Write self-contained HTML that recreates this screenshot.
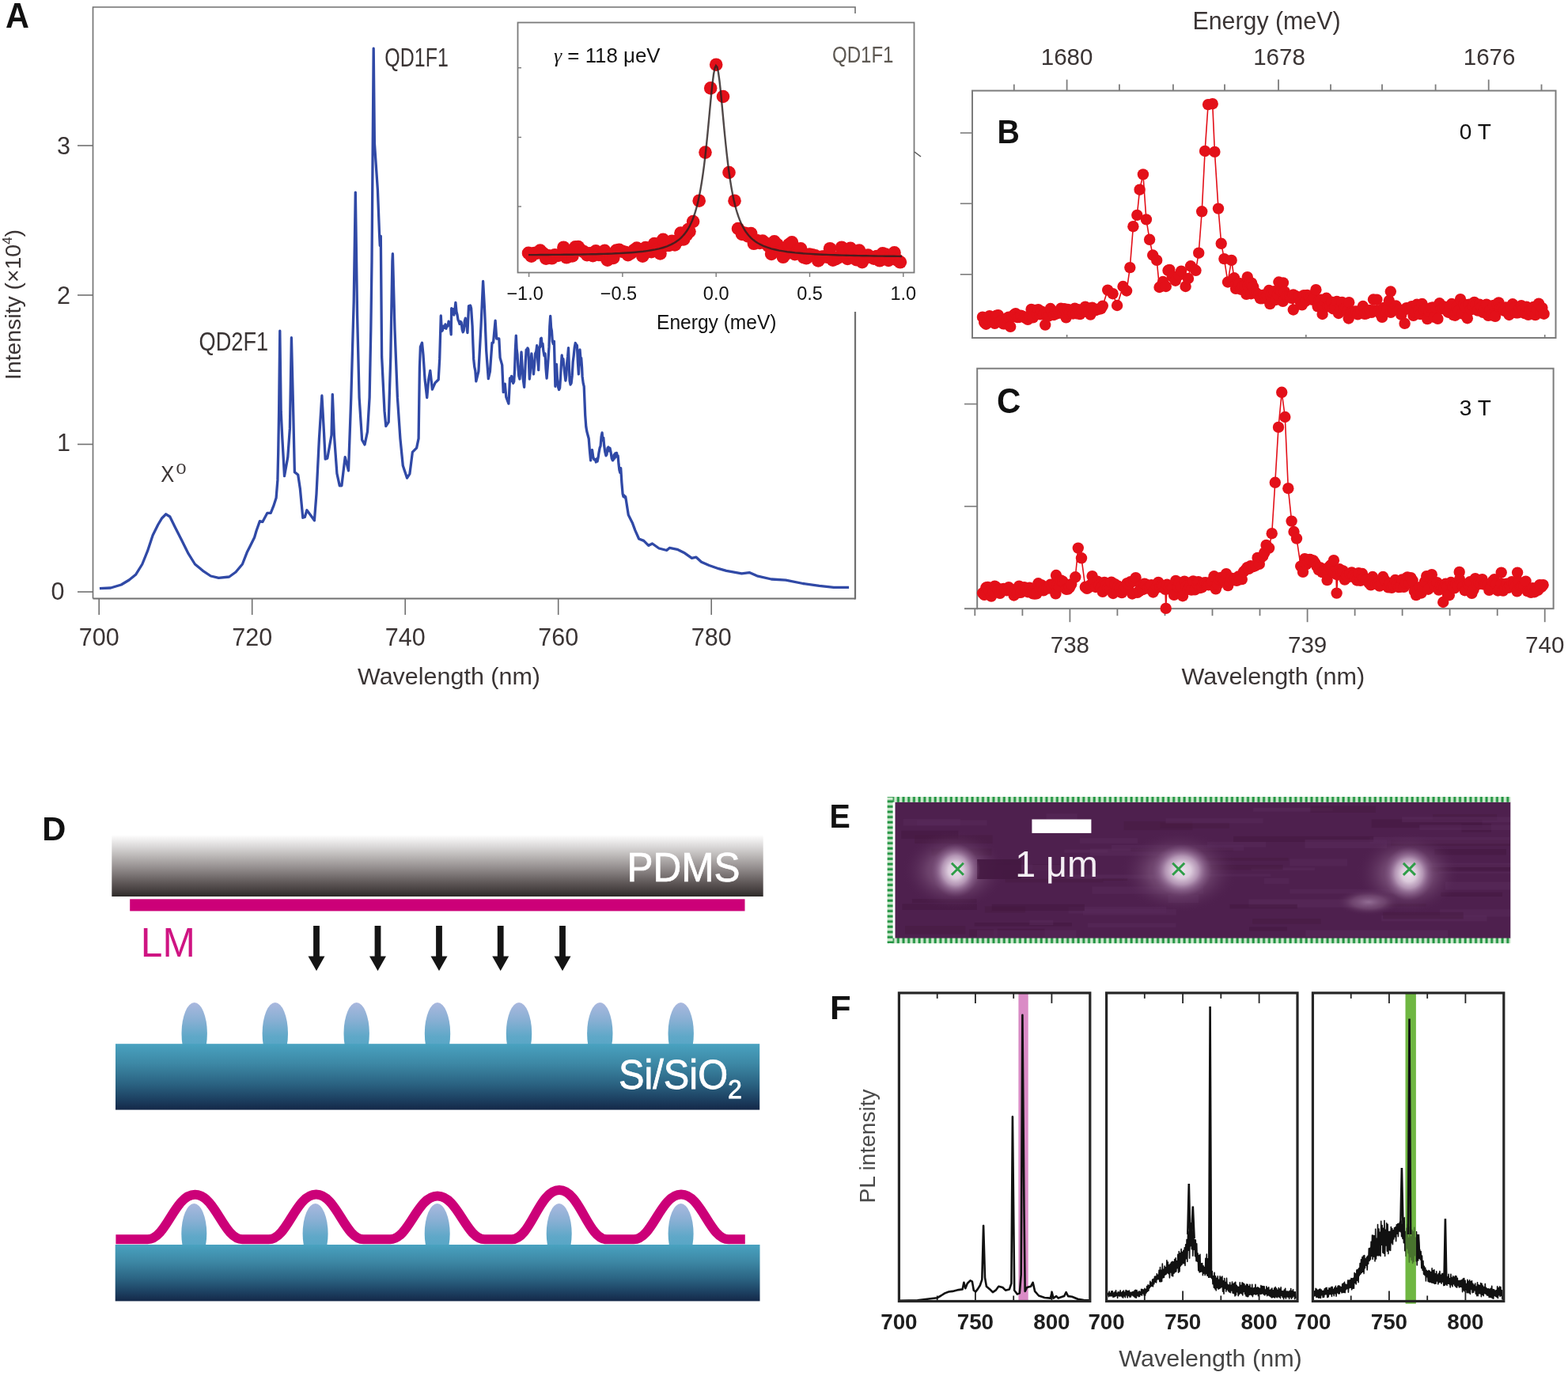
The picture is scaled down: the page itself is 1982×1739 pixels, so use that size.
<!DOCTYPE html><html><head><meta charset="utf-8"><title>Figure</title>
<style>html,body{margin:0;padding:0;background:#fff;}svg{display:block;}text{font-family:"Liberation Sans", Arial, Helvetica, sans-serif;}</style></head><body>
<svg width="1982" height="1739" viewBox="0 0 1982 1739">
<defs><linearGradient id="pdms" x1="0" y1="0" x2="0" y2="1"><stop offset="0" stop-color="#ffffff"/><stop offset="0.2" stop-color="#d8d6d6"/><stop offset="0.3" stop-color="#c4c1c0"/><stop offset="0.55" stop-color="#918b8b"/><stop offset="0.8" stop-color="#5a5353"/><stop offset="0.92" stop-color="#423c3c"/><stop offset="1" stop-color="#2c2927"/></linearGradient><linearGradient id="sub" x1="0" y1="0" x2="0" y2="1"><stop offset="0" stop-color="#49a2c0"/><stop offset="0.3" stop-color="#3d88a5"/><stop offset="0.6" stop-color="#2b6483"/><stop offset="0.85" stop-color="#1c3f60"/><stop offset="1" stop-color="#142848"/></linearGradient><linearGradient id="bump" x1="0" y1="0" x2="0" y2="1"><stop offset="0" stop-color="#aab8de"/><stop offset="0.3" stop-color="#86afd3"/><stop offset="0.55" stop-color="#5fa8c8"/><stop offset="1" stop-color="#4ca2c1"/></linearGradient><radialGradient id="spot"><stop offset="0" stop-color="#ece2ec"/><stop offset="0.3" stop-color="#dccbdc"/><stop offset="0.55" stop-color="#b99cba" stop-opacity="0.9"/><stop offset="0.8" stop-color="#8e6790" stop-opacity="0.5"/><stop offset="1" stop-color="#7a527b" stop-opacity="0"/></radialGradient><radialGradient id="halo"><stop offset="0" stop-color="#9a769c" stop-opacity="0.9"/><stop offset="0.5" stop-color="#80587f" stop-opacity="0.6"/><stop offset="1" stop-color="#4e204e" stop-opacity="0"/></radialGradient><pattern id="gdotsH" x="0" y="0" width="6.7" height="8" patternUnits="userSpaceOnUse"><rect x="0" y="0" width="6.7" height="8" fill="#cfe9cf"/><rect x="1.5" y="0" width="3" height="8" fill="#1f9340"/></pattern><pattern id="gdotsV" x="0" y="0" width="8" height="6.6" patternUnits="userSpaceOnUse"><rect x="0" y="0" width="8" height="6.6" fill="#cfe9cf"/><rect x="0" y="1.5" width="8" height="3" fill="#1f9340"/></pattern></defs>
<rect x="0" y="0" width="1982" height="1739" fill="#ffffff"/>
<text x="7.1" y="35" font-size="44.3" fill="#111" text-anchor="start" font-weight="bold" textLength="29.9" lengthAdjust="spacingAndGlyphs">A</text>
<path d="M117.5,756.5 L117.5,9 L1081,9 L1081,17" fill="none" stroke="#707070" stroke-width="1.6"/>
<line x1="117.5" y1="756.5" x2="1081" y2="756.5" stroke="#707070" stroke-width="2.2"/>
<line x1="1081" y1="394" x2="1081" y2="757.5" stroke="#707070" stroke-width="2.2"/>
<line x1="125.2" y1="756.5" x2="125.2" y2="777" stroke="#707070" stroke-width="1.6"/>
<text x="125.2" y="815.5" font-size="30.5" fill="#3a3434" text-anchor="middle" font-weight="normal">700</text>
<line x1="318.7" y1="756.5" x2="318.7" y2="777" stroke="#707070" stroke-width="1.6"/>
<text x="318.7" y="815.5" font-size="30.5" fill="#3a3434" text-anchor="middle" font-weight="normal">720</text>
<line x1="512.2" y1="756.5" x2="512.2" y2="777" stroke="#707070" stroke-width="1.6"/>
<text x="512.2" y="815.5" font-size="30.5" fill="#3a3434" text-anchor="middle" font-weight="normal">740</text>
<line x1="705.7" y1="756.5" x2="705.7" y2="777" stroke="#707070" stroke-width="1.6"/>
<text x="705.7" y="815.5" font-size="30.5" fill="#3a3434" text-anchor="middle" font-weight="normal">760</text>
<line x1="899.2" y1="756.5" x2="899.2" y2="777" stroke="#707070" stroke-width="1.6"/>
<text x="899.2" y="815.5" font-size="30.5" fill="#3a3434" text-anchor="middle" font-weight="normal">780</text>
<line x1="98" y1="748" x2="117.5" y2="748" stroke="#707070" stroke-width="1.6"/>
<line x1="98" y1="561.5" x2="117.5" y2="561.5" stroke="#707070" stroke-width="1.6"/>
<line x1="98" y1="373" x2="117.5" y2="373" stroke="#707070" stroke-width="1.6"/>
<line x1="98" y1="184" x2="117.5" y2="184" stroke="#707070" stroke-width="1.6"/>
<text x="81.5" y="757.5" font-size="30.5" fill="#3a3434" text-anchor="end" font-weight="normal">0</text>
<text x="89" y="569.5" font-size="30.5" fill="#3a3434" text-anchor="end" font-weight="normal">1</text>
<text x="89" y="384" font-size="30.5" fill="#3a3434" text-anchor="end" font-weight="normal">2</text>
<text x="89" y="195" font-size="30.5" fill="#3a3434" text-anchor="end" font-weight="normal">3</text>
<text x="567.5" y="864.5" font-size="30" fill="#3a3434" text-anchor="middle" font-weight="normal" textLength="231" lengthAdjust="spacingAndGlyphs">Wavelength (nm)</text>
<text transform="translate(26,385) rotate(-90)" x="0" y="0" font-size="28" fill="#3a3434" text-anchor="middle" textLength="190" lengthAdjust="spacingAndGlyphs">Intensity (×10<tspan font-size="17" dy="-11">4</tspan><tspan dy="11">)</tspan></text>
<text x="486.3" y="84.2" font-size="33.5" fill="#3a3434" text-anchor="start" font-weight="normal" textLength="80.5" lengthAdjust="spacingAndGlyphs">QD1F1</text>
<text x="251.6" y="442.7" font-size="33.5" fill="#3a3434" text-anchor="start" font-weight="normal" textLength="87.5" lengthAdjust="spacingAndGlyphs">QD2F1</text>
<text x="203.3" y="609" font-size="30" fill="#3a3434" text-anchor="start" font-weight="normal" textLength="17" lengthAdjust="spacingAndGlyphs">X</text>
<text x="222.5" y="599" font-size="19" fill="#3a3434" text-anchor="start" font-weight="normal" textLength="13" lengthAdjust="spacingAndGlyphs">0</text>
<polyline points="125.9,743.7 139.9,743 153.2,739 163.2,733 171.5,726.3 179.8,713 186.5,696.4 193.1,676.4 199.8,663 204.8,654.7 209.8,649.8 214.8,653 221.4,666.4 229.8,683 238.1,699.7 246.4,713 256.4,721.3 266.4,728 276.4,730.3 289.7,729 298,723 306.4,713 312.1,698.3 316.4,689.7 321.6,679.3 324.1,670.7 328.4,658.6 331.9,659.5 337.9,648.3 342.2,648.3 345.7,639.7 349.1,629.3 350.9,606.9 351.7,572.4 352.6,520.7 353.8,418.1 355.2,520.7 356.9,555.2 359.5,601.7 363.8,577.6 366.4,541.4 368.4,426.7 370.7,520.7 372.4,596.6 376.7,600 379.3,617.2 382.8,654.3 385.3,653.4 387.9,644.8 393.1,651.7 397.4,657.8 400,624.1 403.4,555.2 406.9,500 409.5,546.6 411.2,580.2 413.8,579.3 419,550 420.3,498.3 422.4,550 425.9,598.3 429.3,613.8 431.9,613.8 436.2,577.6 440.5,594.8 443.8,502.4 447.2,381.7 449.3,243.1 451.6,399 454.1,502.4 457.6,555.9 461,561.9 464.5,545.5 467.1,502.4 468.8,416.2 470,330 472.2,61.2 473.4,181 477.4,240 479.6,296.6 480.3,310.3 481.3,298.3 482.6,450.7 486,519.7 487.8,538.6 491.2,533.4 493.8,450.7 495.9,330 496.4,320.7 499,416.2 502.4,502.4 505.9,554.1 509.3,588.6 514.5,604.1 517.9,598.9 521.4,571.4 526.6,566.2 529.1,554.1 530.4,464.2 531.4,438.3 533.5,433.2 535,448.7 537.1,479.8 539.7,502.5 541.7,479.8 543.8,468.4 546.4,492.2 550,483.9 554.2,479.8 555.7,453.9 557.3,399 558.3,418.7 559.3,417.7 560.4,412.1 561.4,412.5 562.2,414.2 563,409.8 563.9,415.3 564.7,412.2 565.5,412.5 566.3,411.3 567.1,406.1 567.9,409.8 568.7,407.3 570.2,422.8 570.7,389.7 571.7,393.5 572.8,390.8 573.8,398 574.8,392.3 575.9,382.4 577,394 578,398 579,404.3 580,406.3 581,409.5 582.1,406.3 583.1,407.3 584.2,416.4 585.2,419.7 586.2,417.7 587.3,405.6 588.3,402.1 589.2,411.6 590,411.5 590.9,420.7 591.7,403.9 592.5,386.6 593.5,391 594.6,386 595.6,389.7 597.1,412.5 597.9,434.6 598.7,453.9 599.7,463.3 600.8,468.6 601.8,481.8 604.9,469.4 608,412.5 610.6,355.5 612.6,391.8 614.7,443.5 617.3,478.7 619.4,469.4 622,433.2 623.5,433.2 626.1,405.2 627.7,428 630.8,428 632.1,452.1 634.7,461.4 636.2,495.6 638.3,485.2 639.8,501.8 642.9,510.1 643.7,496.2 644.5,478 645.5,481.9 646.6,475.4 647.6,480.1 648.7,484.3 649.7,482.1 650.6,466.9 651.4,441.7 652.3,424.2 653.1,440.6 654,447.7 654.8,462.5 655.8,475 656.9,479 658,465.9 659,444.9 660,461.9 661.1,478 662.6,489.4 663.5,474.1 664.3,456.7 665.2,441.8 666.1,446.1 666.9,439.8 667.8,441.8 669.3,479 670.2,471.1 671,456.2 671.9,446.9 672.8,457.8 673.6,462.4 674.5,472.8 675.5,461.4 676.6,446.9 677.7,444.4 678.7,436.6 679.7,454.7 680.7,467.6 681.8,438.7 682.6,439 683.5,428 684.3,427.3 685.2,437 686,434.4 686.9,443.8 688,449.8 689,446.9 690,465.5 691.1,478 692.1,465.8 693.1,452.1 694,438.4 694.8,412.6 695.7,399.3 696.6,414.1 697.4,418.1 698.3,431.4 699.3,434.6 700.4,431.4 701.9,488.3 702.7,475.3 703.5,460.4 704.5,478.6 705.6,489.4 706.6,492.5 707.6,490.4 708.5,477.9 709.3,462.5 710.2,449 711.1,457.3 711.9,453.5 712.8,462.5 713.8,472.2 714.9,481.1 715.8,474.4 716.7,458.6 717.6,450.7 718.5,439.7 719.3,461.7 720.1,481.1 721.1,486.1 722.1,484.2 723.2,474.7 724.2,457.3 725.2,449.6 726.3,438.7 727.3,433.5 728.3,435.3 729.4,436.6 730.4,457.9 731.4,472.8 732.2,458.8 733,441.8 733.9,453.3 734.7,452.5 735.6,464.5 736.1,475.9 737.2,484.4 738.2,488.3 739.7,524.6 740.8,539.4 741.8,545.3 744.2,554.2 745.4,569.4 746.6,581.9 747.5,575.6 748.5,568.6 749.7,577.3 750.9,580.7 751.7,581.3 752.6,580.8 753.4,584 754.3,579.9 755.1,583.1 756.1,578.2 757.1,571.6 758.1,566.2 759.1,563.7 760.1,551.9 761.1,546.9 761.9,556.4 762.8,553.3 763.6,562.6 764.8,571 766,575.9 767,574.3 768,566.3 769,565 770,569.9 771,566.4 772,571.1 773.2,579 774.4,581.9 775.3,581.1 776.2,574.7 777,579.1 777.8,572.8 778.7,577.2 779.5,572.3 780.3,576.8 781.1,575.9 782,586.3 782.9,594 783.8,597.2 784.7,591.6 785.9,610.2 787.1,624.2 788,627.6 788.9,625.9 789.8,628.8 790.7,627.8 794.3,650.8 799.2,660.4 802.8,670.1 807.6,681 813.7,683.4 819.7,689.4 824.5,687 833,693 842.7,695.5 846.3,692.4 856,694.3 865.6,699.1 874.5,705.4 880,704.2 886.6,710.2 896.3,714.5 908.4,718.7 918.1,721.4 937.5,724.8 947.2,723.6 956.9,727.8 975,732 993.2,733.2 1015,737.5 1035.6,740.3 1053.8,742.3 1073.1,742.3" fill="none" stroke="#3049a6" stroke-width="3.3" stroke-linejoin="round"/>
<rect x="640" y="17.5" width="525" height="376" fill="#ffffff"/>
<rect x="654.5" y="28.5" width="501" height="316" fill="#ffffff" stroke="#7a7a7a" stroke-width="1.8"/>
<line x1="668.6" y1="344.5" x2="668.6" y2="350" stroke="#7a7a7a" stroke-width="1.4"/>
<line x1="786.9" y1="344.5" x2="786.9" y2="350" stroke="#7a7a7a" stroke-width="1.4"/>
<line x1="905.2" y1="344.5" x2="905.2" y2="350" stroke="#7a7a7a" stroke-width="1.4"/>
<line x1="1023.5" y1="344.5" x2="1023.5" y2="350" stroke="#7a7a7a" stroke-width="1.4"/>
<line x1="1141.8" y1="344.5" x2="1141.8" y2="350" stroke="#7a7a7a" stroke-width="1.4"/>
<line x1="654.5" y1="85.7" x2="659" y2="85.7" stroke="#7a7a7a" stroke-width="1.4"/>
<line x1="654.5" y1="173.5" x2="659" y2="173.5" stroke="#7a7a7a" stroke-width="1.4"/>
<line x1="654.5" y1="261" x2="659" y2="261" stroke="#7a7a7a" stroke-width="1.4"/>
<text x="663.6" y="378.5" font-size="23.5" fill="#111" text-anchor="middle" font-weight="normal">−1.0</text>
<text x="781.9" y="378.5" font-size="23.5" fill="#111" text-anchor="middle" font-weight="normal">−0.5</text>
<text x="905.2" y="378.5" font-size="23.5" fill="#111" text-anchor="middle" font-weight="normal">0.0</text>
<text x="1023.5" y="378.5" font-size="23.5" fill="#111" text-anchor="middle" font-weight="normal">0.5</text>
<text x="1141.8" y="378.5" font-size="23.5" fill="#111" text-anchor="middle" font-weight="normal">1.0</text>
<text x="905.8" y="416.3" font-size="25" fill="#111" text-anchor="middle" font-weight="normal" textLength="151.5" lengthAdjust="spacingAndGlyphs">Energy (meV)</text>
<text x="700" y="79.3" font-size="25" fill="#111" textLength="134.6" lengthAdjust="spacingAndGlyphs"><tspan font-family="Liberation Serif, serif" font-style="italic">γ</tspan> = 118 μeV</text>
<text x="1052" y="79.3" font-size="29" fill="#5d5852" text-anchor="start" font-weight="normal" textLength="77.5" lengthAdjust="spacingAndGlyphs">QD1F1</text>
<circle cx="668" cy="319.9" r="8.3" fill="#e31019"/>
<circle cx="671.7" cy="323.7" r="8.3" fill="#e31019"/>
<circle cx="675.4" cy="320" r="8.3" fill="#e31019"/>
<circle cx="679.1" cy="319.6" r="8.3" fill="#e31019"/>
<circle cx="682.8" cy="316.5" r="8.3" fill="#e31019"/>
<circle cx="686.5" cy="320.1" r="8.3" fill="#e31019"/>
<circle cx="690.2" cy="326.7" r="8.3" fill="#e31019"/>
<circle cx="693.9" cy="323.2" r="8.3" fill="#e31019"/>
<circle cx="697.6" cy="326.3" r="8.3" fill="#e31019"/>
<circle cx="701.3" cy="322.3" r="8.3" fill="#e31019"/>
<circle cx="705" cy="323" r="8.3" fill="#e31019"/>
<circle cx="708.7" cy="322" r="8.3" fill="#e31019"/>
<circle cx="712.4" cy="312.7" r="8.3" fill="#e31019"/>
<circle cx="716.1" cy="325.3" r="8.3" fill="#e31019"/>
<circle cx="719.8" cy="323.5" r="8.3" fill="#e31019"/>
<circle cx="723.5" cy="323.4" r="8.3" fill="#e31019"/>
<circle cx="727.2" cy="312.4" r="8.3" fill="#e31019"/>
<circle cx="730.9" cy="312.1" r="8.3" fill="#e31019"/>
<circle cx="734.6" cy="316.3" r="8.3" fill="#e31019"/>
<circle cx="738.3" cy="318.4" r="8.3" fill="#e31019"/>
<circle cx="742" cy="322.2" r="8.3" fill="#e31019"/>
<circle cx="745.7" cy="320.4" r="8.3" fill="#e31019"/>
<circle cx="749.4" cy="323.2" r="8.3" fill="#e31019"/>
<circle cx="753.1" cy="317.3" r="8.3" fill="#e31019"/>
<circle cx="756.8" cy="322" r="8.3" fill="#e31019"/>
<circle cx="760.5" cy="322.3" r="8.3" fill="#e31019"/>
<circle cx="764.2" cy="316.9" r="8.3" fill="#e31019"/>
<circle cx="767.9" cy="328.7" r="8.3" fill="#e31019"/>
<circle cx="771.6" cy="322.8" r="8.3" fill="#e31019"/>
<circle cx="775.3" cy="325.9" r="8.3" fill="#e31019"/>
<circle cx="779" cy="316.6" r="8.3" fill="#e31019"/>
<circle cx="782.7" cy="315.9" r="8.3" fill="#e31019"/>
<circle cx="786.4" cy="317.7" r="8.3" fill="#e31019"/>
<circle cx="790.1" cy="318.7" r="8.3" fill="#e31019"/>
<circle cx="793.8" cy="322.2" r="8.3" fill="#e31019"/>
<circle cx="797.5" cy="320" r="8.3" fill="#e31019"/>
<circle cx="801.2" cy="316.3" r="8.3" fill="#e31019"/>
<circle cx="804.9" cy="313.5" r="8.3" fill="#e31019"/>
<circle cx="808.6" cy="315.3" r="8.3" fill="#e31019"/>
<circle cx="812.3" cy="323.6" r="8.3" fill="#e31019"/>
<circle cx="816" cy="313.1" r="8.3" fill="#e31019"/>
<circle cx="819.7" cy="317.9" r="8.3" fill="#e31019"/>
<circle cx="823.4" cy="318.2" r="8.3" fill="#e31019"/>
<circle cx="827.1" cy="308" r="8.3" fill="#e31019"/>
<circle cx="830.8" cy="315" r="8.3" fill="#e31019"/>
<circle cx="834.5" cy="320.5" r="8.3" fill="#e31019"/>
<circle cx="838.2" cy="302.9" r="8.3" fill="#e31019"/>
<circle cx="841.9" cy="310.2" r="8.3" fill="#e31019"/>
<circle cx="845.6" cy="310" r="8.3" fill="#e31019"/>
<circle cx="849.3" cy="304.8" r="8.3" fill="#e31019"/>
<circle cx="853" cy="309.5" r="8.3" fill="#e31019"/>
<circle cx="856.7" cy="304.4" r="8.3" fill="#e31019"/>
<circle cx="860.4" cy="294.5" r="8.3" fill="#e31019"/>
<circle cx="864.1" cy="302.4" r="8.3" fill="#e31019"/>
<circle cx="867.8" cy="297" r="8.3" fill="#e31019"/>
<circle cx="871.5" cy="292.6" r="8.3" fill="#e31019"/>
<circle cx="938.1" cy="294" r="8.3" fill="#e31019"/>
<circle cx="941.8" cy="294.8" r="8.3" fill="#e31019"/>
<circle cx="945.5" cy="298.4" r="8.3" fill="#e31019"/>
<circle cx="949.2" cy="295.1" r="8.3" fill="#e31019"/>
<circle cx="952.9" cy="307.8" r="8.3" fill="#e31019"/>
<circle cx="956.6" cy="304.1" r="8.3" fill="#e31019"/>
<circle cx="960.3" cy="306.9" r="8.3" fill="#e31019"/>
<circle cx="964" cy="304.6" r="8.3" fill="#e31019"/>
<circle cx="967.7" cy="307.5" r="8.3" fill="#e31019"/>
<circle cx="971.4" cy="310.9" r="8.3" fill="#e31019"/>
<circle cx="975.1" cy="321" r="8.3" fill="#e31019"/>
<circle cx="978.8" cy="305.3" r="8.3" fill="#e31019"/>
<circle cx="982.5" cy="309" r="8.3" fill="#e31019"/>
<circle cx="986.2" cy="318.1" r="8.3" fill="#e31019"/>
<circle cx="989.9" cy="324.8" r="8.3" fill="#e31019"/>
<circle cx="993.6" cy="321" r="8.3" fill="#e31019"/>
<circle cx="997.3" cy="309.1" r="8.3" fill="#e31019"/>
<circle cx="1001" cy="306.4" r="8.3" fill="#e31019"/>
<circle cx="1004.7" cy="321.1" r="8.3" fill="#e31019"/>
<circle cx="1008.4" cy="316" r="8.3" fill="#e31019"/>
<circle cx="1012.1" cy="314.4" r="8.3" fill="#e31019"/>
<circle cx="1015.8" cy="325.2" r="8.3" fill="#e31019"/>
<circle cx="1019.5" cy="326.1" r="8.3" fill="#e31019"/>
<circle cx="1023.2" cy="321.6" r="8.3" fill="#e31019"/>
<circle cx="1026.9" cy="322.2" r="8.3" fill="#e31019"/>
<circle cx="1030.6" cy="323.4" r="8.3" fill="#e31019"/>
<circle cx="1034.3" cy="329.4" r="8.3" fill="#e31019"/>
<circle cx="1038" cy="324.7" r="8.3" fill="#e31019"/>
<circle cx="1041.7" cy="324.3" r="8.3" fill="#e31019"/>
<circle cx="1045.4" cy="324.6" r="8.3" fill="#e31019"/>
<circle cx="1049.1" cy="314.2" r="8.3" fill="#e31019"/>
<circle cx="1052.8" cy="328.6" r="8.3" fill="#e31019"/>
<circle cx="1056.5" cy="327.1" r="8.3" fill="#e31019"/>
<circle cx="1060.2" cy="325.1" r="8.3" fill="#e31019"/>
<circle cx="1063.9" cy="312.7" r="8.3" fill="#e31019"/>
<circle cx="1067.6" cy="319.5" r="8.3" fill="#e31019"/>
<circle cx="1071.3" cy="326.9" r="8.3" fill="#e31019"/>
<circle cx="1075" cy="313.8" r="8.3" fill="#e31019"/>
<circle cx="1078.7" cy="322" r="8.3" fill="#e31019"/>
<circle cx="1082.4" cy="328.1" r="8.3" fill="#e31019"/>
<circle cx="1086.1" cy="316.5" r="8.3" fill="#e31019"/>
<circle cx="1089.8" cy="331.2" r="8.3" fill="#e31019"/>
<circle cx="1093.5" cy="326" r="8.3" fill="#e31019"/>
<circle cx="1097.2" cy="322.6" r="8.3" fill="#e31019"/>
<circle cx="1100.9" cy="325" r="8.3" fill="#e31019"/>
<circle cx="1104.6" cy="326.7" r="8.3" fill="#e31019"/>
<circle cx="1108.3" cy="324.1" r="8.3" fill="#e31019"/>
<circle cx="1112" cy="329.3" r="8.3" fill="#e31019"/>
<circle cx="1115.7" cy="320.3" r="8.3" fill="#e31019"/>
<circle cx="1119.4" cy="321.6" r="8.3" fill="#e31019"/>
<circle cx="1123.1" cy="329" r="8.3" fill="#e31019"/>
<circle cx="1126.8" cy="323.9" r="8.3" fill="#e31019"/>
<circle cx="1130.5" cy="319.4" r="8.3" fill="#e31019"/>
<circle cx="1134.2" cy="328.6" r="8.3" fill="#e31019"/>
<circle cx="1137.9" cy="331.3" r="8.3" fill="#e31019"/>
<circle cx="876.1" cy="280" r="8.3" fill="#e31019"/>
<circle cx="883.7" cy="253.7" r="8.3" fill="#e31019"/>
<circle cx="891.5" cy="192.6" r="8.3" fill="#e31019"/>
<circle cx="898.2" cy="111.4" r="8.3" fill="#e31019"/>
<circle cx="905.2" cy="81.7" r="8.3" fill="#e31019"/>
<circle cx="914" cy="122" r="8.3" fill="#e31019"/>
<circle cx="921.5" cy="218" r="8.3" fill="#e31019"/>
<circle cx="928.5" cy="253.7" r="8.3" fill="#e31019"/>
<circle cx="933" cy="289" r="8.3" fill="#e31019"/>
<circle cx="870" cy="290" r="8.3" fill="#e31019"/>
<circle cx="938" cy="296" r="8.3" fill="#e31019"/>
<polyline points="668,322.1 673,322.1 678,322.1 683,322 688,322 693,322 698,321.9 703,321.9 708,321.9 713,321.8 718,321.8 723,321.7 728,321.6 733,321.6 738,321.5 743,321.4 748,321.3 753,321.2 758,321 763,320.9 768,320.7 773,320.6 778,320.3 783,320.1 788,319.8 793,319.5 798,319.2 803,318.8 808,318.3 813,317.8 818,317.1 823,316.3 828,315.4 833,314.3 838,313 843,311.3 848,309.2 849.5,308.4 851,307.6 852.5,306.8 854,305.9 855.5,304.8 857,303.8 858.5,302.6 860,301.3 861.5,299.9 863,298.3 864.5,296.6 866,294.8 867.5,292.7 869,290.5 870.5,288 872,285.2 873.5,282.1 875,278.7 876.5,274.8 878,270.5 879.5,265.7 881,260.2 882.5,254 884,247.1 885.5,239.2 887,230.3 888.5,220.3 890,209.1 891.5,196.6 893,182.8 894.5,167.9 896,152.1 897.5,135.9 899,120.2 900.5,105.8 902,94.1 903.5,86.2 905,83 906.5,84.9 908,91.6 909.5,102.4 911,116.2 912.5,131.7 914,147.9 915.5,163.8 917,179 918.5,193.1 920,206 921.5,217.6 923,227.9 924.5,237.1 926,245.2 927.5,252.4 929,258.8 930.5,264.5 932,269.5 933.5,273.9 935,277.9 936.5,281.5 938,284.7 939.5,287.5 941,290.1 942.5,292.5 944,294.6 945.5,296.5 947,298.2 948.5,299.8 950,301.3 951.5,302.6 953,303.8 954.5,305 956,306 957.5,307 959,307.8 960.5,308.7 962,309.4 963.5,310.1 965,310.8 970,312.7 975,314.3 980,315.5 985,316.6 990,317.4 995,318.2 1000,318.8 1005,319.4 1010,319.8 1015,320.3 1020,320.6 1025,320.9 1030,321.2 1035,321.5 1040,321.7 1045,321.9 1050,322.1 1055,322.3 1060,322.5 1065,322.6 1070,322.8 1075,322.9 1080,323 1085,323.1 1090,323.2 1095,323.3 1100,323.4 1105,323.5 1110,323.6 1115,323.6 1120,323.7 1125,323.8 1130,323.8 1135,323.9 1140,324" fill="none" stroke="#2a2020" stroke-opacity="0.82" stroke-width="2.4"/>
<line x1="1156" y1="192" x2="1164" y2="198" stroke="#555" stroke-width="1.5"/>
<rect x="1229" y="114.6" width="737.5" height="312.4" fill="none" stroke="#7c7c7c" stroke-width="2"/>
<line x1="1281.8" y1="114.6" x2="1281.8" y2="106.6" stroke="#7c7c7c" stroke-width="1.8"/>
<line x1="1348.6" y1="114.6" x2="1348.6" y2="100.6" stroke="#7c7c7c" stroke-width="1.8"/>
<line x1="1414.9" y1="114.6" x2="1414.9" y2="106.6" stroke="#7c7c7c" stroke-width="1.8"/>
<line x1="1482.9" y1="114.6" x2="1482.9" y2="106.6" stroke="#7c7c7c" stroke-width="1.8"/>
<line x1="1548" y1="114.6" x2="1548" y2="106.6" stroke="#7c7c7c" stroke-width="1.8"/>
<line x1="1616" y1="114.6" x2="1616" y2="100.6" stroke="#7c7c7c" stroke-width="1.8"/>
<line x1="1682" y1="114.6" x2="1682" y2="106.6" stroke="#7c7c7c" stroke-width="1.8"/>
<line x1="1747" y1="114.6" x2="1747" y2="106.6" stroke="#7c7c7c" stroke-width="1.8"/>
<line x1="1814.6" y1="114.6" x2="1814.6" y2="106.6" stroke="#7c7c7c" stroke-width="1.8"/>
<line x1="1881.7" y1="114.6" x2="1881.7" y2="100.6" stroke="#7c7c7c" stroke-width="1.8"/>
<line x1="1948.5" y1="114.6" x2="1948.5" y2="106.6" stroke="#7c7c7c" stroke-width="1.8"/>
<text x="1348.6" y="82" font-size="29.5" fill="#3a3434" text-anchor="middle" font-weight="normal">1680</text>
<text x="1617" y="82" font-size="29.5" fill="#3a3434" text-anchor="middle" font-weight="normal">1678</text>
<text x="1882.6" y="82" font-size="29.5" fill="#3a3434" text-anchor="middle" font-weight="normal">1676</text>
<text x="1601" y="36.9" font-size="30.5" fill="#3a3434" text-anchor="middle" font-weight="normal" textLength="187" lengthAdjust="spacingAndGlyphs">Energy (meV)</text>
<line x1="1213.8" y1="168" x2="1229" y2="168" stroke="#7c7c7c" stroke-width="1.6"/>
<line x1="1213.8" y1="257.3" x2="1229" y2="257.3" stroke="#7c7c7c" stroke-width="1.6"/>
<line x1="1213.8" y1="346.8" x2="1229" y2="346.8" stroke="#7c7c7c" stroke-width="1.6"/>
<line x1="1348.6" y1="427" x2="1348.6" y2="423" stroke="#7c7c7c" stroke-width="1.6"/>
<line x1="1650.8" y1="427" x2="1650.8" y2="423" stroke="#7c7c7c" stroke-width="1.6"/>
<line x1="1952.7" y1="427" x2="1952.7" y2="423" stroke="#7c7c7c" stroke-width="1.6"/>
<text x="1260.4" y="180.5" font-size="42.8" fill="#111" text-anchor="start" font-weight="bold" textLength="28.4" lengthAdjust="spacingAndGlyphs">B</text>
<text x="1844.8" y="175.5" font-size="28" fill="#111" text-anchor="start" font-weight="normal" textLength="40" lengthAdjust="spacingAndGlyphs">0 T</text>
<polyline points="1242,400.7 1244.2,407.4 1246.4,409.7 1248.6,403 1250.8,399.2 1253,404.4 1255.2,406.5 1257.4,408.9 1259.6,398.6 1261.8,398.1 1264,406.4 1266.2,405.1 1268.4,409.4 1270.6,406.8 1272.8,401.8 1275,400.8 1277.2,412.8 1279.4,400.2 1281.6,397.8 1283.8,396.1 1286,401.1 1288.2,401 1290.4,398.7 1292.6,399.6 1294.8,400.8 1297,402.3 1299.2,403.8 1301.4,399.7 1303.6,390.9 1305.8,401.3 1308,391.9 1310.2,397 1312.4,391.2 1314.6,397.3 1316.8,393.6 1319,397.6 1321.2,410.6 1323.4,396 1325.6,399.5 1327.8,390 1330,394.2 1332.2,398 1334.4,394.5 1336.6,396.2 1338.8,394.8 1341,389.8 1343.2,396.2 1345.4,390.1 1347.6,401.3 1349.8,390.9 1352,395.8 1354.2,392.6 1356.4,396.5 1358.6,389.7 1360.8,396.4 1363,391.3 1365.2,397.1 1367.4,394.2 1369.6,391.9 1371.8,387.7 1374,394.2 1376.2,392.7 1378.4,397.6 1380.6,388.7 1382.8,392.5 1385,392.1 1387.2,391 1389.4,390.5 1391.6,390.2 1393.8,386.6 1400.2,366.6 1406.6,371.2 1412.1,386 1419.5,362 1424.1,367.5 1428.3,338.1 1432.4,286.2 1437.3,271.9 1440.6,239.7 1444.9,220.4 1448.9,277.4 1453.1,302.8 1457.2,322.5 1462.2,328.9 1465.5,363 1467.4,362 1470,356 1473.8,362 1476.5,341.8 1478.4,340.9 1482,350 1485.8,354.7 1490,348 1493.1,342.7 1498.6,362 1502,352 1505.1,336.3 1511.5,341.8 1515.2,319.7 1519.2,267.3 1523.1,190.9 1527.1,132.1 1532.7,131.2 1535.4,191.9 1540,263.6 1543.7,307.8 1547.4,327.1 1552,356.5 1556.6,328.9 1560,351.3 1562.1,364.8 1562.2,360.3 1564.4,358.4 1566.6,357.9 1568.8,365.8 1571,361.9 1573.2,360.8 1575.4,371.8 1576.8,350.1 1577.6,360.9 1579.8,357.6 1581.4,371.2 1582,357.7 1584.2,362.6 1586.4,369.2 1588.6,370.8 1590.8,372.9 1593,377.2 1595.2,377.2 1597.4,372.6 1599.6,376.7 1601.8,373.3 1604,367 1605.3,384.1 1606.2,373.7 1608.4,369.7 1610.6,368.1 1612.8,379 1615,372.6 1616.4,356.5 1617.2,366.1 1619.4,367.9 1621.6,380.8 1621.9,357.4 1623.8,368.7 1626,374.7 1628.2,375.1 1630.4,375.5 1632.6,376.9 1634.8,391.5 1634.8,372.5 1637,373.6 1639.2,376.1 1641.4,375.5 1643.6,381.5 1645.8,385.4 1648,373.2 1650.2,380.6 1652.4,372.9 1654.6,374.5 1656.8,376.9 1659,378.8 1661.2,376.5 1663.4,366.2 1665.6,387.3 1667.8,379.6 1670,378.6 1671.6,397 1672.2,386 1674.4,380.3 1676.6,376.8 1678.8,387.3 1681,387.5 1683.2,381.6 1685.4,390.3 1687.6,388.3 1689.8,381 1692,396 1694.2,388.8 1696.4,382 1698.6,390.4 1700.8,389 1703,393.6 1704.7,402.5 1705.2,382.2 1707.4,394.7 1709.6,394.5 1711.8,393.6 1714,393.5 1716.2,397.4 1718.4,394.7 1720.6,391.9 1722.8,387 1725,396.9 1727.2,396.3 1729.4,392.8 1731.6,392 1733.8,394.9 1736,378.5 1738.2,392.9 1740.4,378.6 1742.6,392.5 1744.8,396.6 1747,400.9 1749.2,388.9 1751.4,393.4 1753.6,390.9 1755.8,380 1757.8,368.5 1758,394.9 1760.2,391.2 1762.4,391.6 1764.6,386.5 1766.8,391 1769,391.7 1771.2,397.7 1773.4,392.7 1775.6,408.9 1777.8,389.2 1780,389.9 1782.2,391 1784.4,387.1 1786.6,398.9 1788.8,394.5 1791,384.8 1793.2,391.8 1795.4,397.1 1797.6,384 1799.8,392 1802,390 1804.2,403.1 1806.4,393.3 1808.6,389.2 1810.8,388.4 1813,400.8 1815.2,388.9 1817.4,402.8 1819.6,383.3 1821.8,390.3 1824,390 1826.2,387.7 1828.4,390.2 1830.6,394.7 1832.8,387.9 1835,384 1837.2,398.1 1839.4,398.7 1841.6,387.7 1843.8,392.8 1846,378.2 1848.2,396.5 1850.4,384.5 1852.6,388.4 1854.8,402.2 1857,384.8 1859.2,391.3 1861.4,385.8 1863.6,381.9 1865.8,385.3 1868,392.6 1870.2,384.6 1872.4,388.2 1874.6,394.9 1876.8,390.4 1879,384.6 1881.2,398.8 1883.4,391.8 1885.6,398.4 1887.8,385.9 1890,399.8 1892.2,384.4 1894.4,382.4 1896.6,389.1 1898.8,389.3 1901,392.6 1903.2,388.4 1905.4,394.4 1907.6,398 1909.8,387.9 1912,384.3 1914.2,389.2 1916.4,395.4 1918.6,395.4 1920.8,389.5 1923,386.2 1925.2,391.1 1927.4,396.1 1929.6,387.6 1931.8,397.8 1934,392.4 1936.2,392.7 1938.4,388 1940.6,398.1 1942.8,391.4 1945,383.7 1947.2,395.4 1949.4,389.1 1951.6,396.7" fill="none" stroke="#e31019" stroke-width="1.6"/>
<g fill="#e31019"><circle cx="1242" cy="400.7" r="7.2"/><circle cx="1244.2" cy="407.4" r="7.2"/><circle cx="1246.4" cy="409.7" r="7.2"/><circle cx="1248.6" cy="403" r="7.2"/><circle cx="1250.8" cy="399.2" r="7.2"/><circle cx="1253" cy="404.4" r="7.2"/><circle cx="1255.2" cy="406.5" r="7.2"/><circle cx="1257.4" cy="408.9" r="7.2"/><circle cx="1259.6" cy="398.6" r="7.2"/><circle cx="1261.8" cy="398.1" r="7.2"/><circle cx="1264" cy="406.4" r="7.2"/><circle cx="1266.2" cy="405.1" r="7.2"/><circle cx="1268.4" cy="409.4" r="7.2"/><circle cx="1270.6" cy="406.8" r="7.2"/><circle cx="1272.8" cy="401.8" r="7.2"/><circle cx="1275" cy="400.8" r="7.2"/><circle cx="1277.2" cy="412.8" r="7.2"/><circle cx="1279.4" cy="400.2" r="7.2"/><circle cx="1281.6" cy="397.8" r="7.2"/><circle cx="1283.8" cy="396.1" r="7.2"/><circle cx="1286" cy="401.1" r="7.2"/><circle cx="1288.2" cy="401" r="7.2"/><circle cx="1290.4" cy="398.7" r="7.2"/><circle cx="1292.6" cy="399.6" r="7.2"/><circle cx="1294.8" cy="400.8" r="7.2"/><circle cx="1297" cy="402.3" r="7.2"/><circle cx="1299.2" cy="403.8" r="7.2"/><circle cx="1301.4" cy="399.7" r="7.2"/><circle cx="1303.6" cy="390.9" r="7.2"/><circle cx="1305.8" cy="401.3" r="7.2"/><circle cx="1308" cy="391.9" r="7.2"/><circle cx="1310.2" cy="397" r="7.2"/><circle cx="1312.4" cy="391.2" r="7.2"/><circle cx="1314.6" cy="397.3" r="7.2"/><circle cx="1316.8" cy="393.6" r="7.2"/><circle cx="1319" cy="397.6" r="7.2"/><circle cx="1321.2" cy="410.6" r="7.2"/><circle cx="1323.4" cy="396" r="7.2"/><circle cx="1325.6" cy="399.5" r="7.2"/><circle cx="1327.8" cy="390" r="7.2"/><circle cx="1330" cy="394.2" r="7.2"/><circle cx="1332.2" cy="398" r="7.2"/><circle cx="1334.4" cy="394.5" r="7.2"/><circle cx="1336.6" cy="396.2" r="7.2"/><circle cx="1338.8" cy="394.8" r="7.2"/><circle cx="1341" cy="389.8" r="7.2"/><circle cx="1343.2" cy="396.2" r="7.2"/><circle cx="1345.4" cy="390.1" r="7.2"/><circle cx="1347.6" cy="401.3" r="7.2"/><circle cx="1349.8" cy="390.9" r="7.2"/><circle cx="1352" cy="395.8" r="7.2"/><circle cx="1354.2" cy="392.6" r="7.2"/><circle cx="1356.4" cy="396.5" r="7.2"/><circle cx="1358.6" cy="389.7" r="7.2"/><circle cx="1360.8" cy="396.4" r="7.2"/><circle cx="1363" cy="391.3" r="7.2"/><circle cx="1365.2" cy="397.1" r="7.2"/><circle cx="1367.4" cy="394.2" r="7.2"/><circle cx="1369.6" cy="391.9" r="7.2"/><circle cx="1371.8" cy="387.7" r="7.2"/><circle cx="1374" cy="394.2" r="7.2"/><circle cx="1376.2" cy="392.7" r="7.2"/><circle cx="1378.4" cy="397.6" r="7.2"/><circle cx="1380.6" cy="388.7" r="7.2"/><circle cx="1382.8" cy="392.5" r="7.2"/><circle cx="1385" cy="392.1" r="7.2"/><circle cx="1387.2" cy="391" r="7.2"/><circle cx="1389.4" cy="390.5" r="7.2"/><circle cx="1391.6" cy="390.2" r="7.2"/><circle cx="1393.8" cy="386.6" r="7.2"/><circle cx="1400.2" cy="366.6" r="7.2"/><circle cx="1406.6" cy="371.2" r="7.2"/><circle cx="1412.1" cy="386" r="7.2"/><circle cx="1419.5" cy="362" r="7.2"/><circle cx="1424.1" cy="367.5" r="7.2"/><circle cx="1428.3" cy="338.1" r="7.2"/><circle cx="1432.4" cy="286.2" r="7.2"/><circle cx="1437.3" cy="271.9" r="7.2"/><circle cx="1440.6" cy="239.7" r="7.2"/><circle cx="1444.9" cy="220.4" r="7.2"/><circle cx="1448.9" cy="277.4" r="7.2"/><circle cx="1453.1" cy="302.8" r="7.2"/><circle cx="1457.2" cy="322.5" r="7.2"/><circle cx="1462.2" cy="328.9" r="7.2"/><circle cx="1465.5" cy="363" r="7.2"/><circle cx="1467.4" cy="362" r="7.2"/><circle cx="1470" cy="356" r="7.2"/><circle cx="1473.8" cy="362" r="7.2"/><circle cx="1476.5" cy="341.8" r="7.2"/><circle cx="1478.4" cy="340.9" r="7.2"/><circle cx="1482" cy="350" r="7.2"/><circle cx="1485.8" cy="354.7" r="7.2"/><circle cx="1490" cy="348" r="7.2"/><circle cx="1493.1" cy="342.7" r="7.2"/><circle cx="1498.6" cy="362" r="7.2"/><circle cx="1502" cy="352" r="7.2"/><circle cx="1505.1" cy="336.3" r="7.2"/><circle cx="1511.5" cy="341.8" r="7.2"/><circle cx="1515.2" cy="319.7" r="7.2"/><circle cx="1519.2" cy="267.3" r="7.2"/><circle cx="1523.1" cy="190.9" r="7.2"/><circle cx="1527.1" cy="132.1" r="7.2"/><circle cx="1532.7" cy="131.2" r="7.2"/><circle cx="1535.4" cy="191.9" r="7.2"/><circle cx="1540" cy="263.6" r="7.2"/><circle cx="1543.7" cy="307.8" r="7.2"/><circle cx="1547.4" cy="327.1" r="7.2"/><circle cx="1552" cy="356.5" r="7.2"/><circle cx="1556.6" cy="328.9" r="7.2"/><circle cx="1560" cy="351.3" r="7.2"/><circle cx="1562.1" cy="364.8" r="7.2"/><circle cx="1562.2" cy="360.3" r="7.2"/><circle cx="1564.4" cy="358.4" r="7.2"/><circle cx="1566.6" cy="357.9" r="7.2"/><circle cx="1568.8" cy="365.8" r="7.2"/><circle cx="1571" cy="361.9" r="7.2"/><circle cx="1573.2" cy="360.8" r="7.2"/><circle cx="1575.4" cy="371.8" r="7.2"/><circle cx="1576.8" cy="350.1" r="7.2"/><circle cx="1577.6" cy="360.9" r="7.2"/><circle cx="1579.8" cy="357.6" r="7.2"/><circle cx="1581.4" cy="371.2" r="7.2"/><circle cx="1582" cy="357.7" r="7.2"/><circle cx="1584.2" cy="362.6" r="7.2"/><circle cx="1586.4" cy="369.2" r="7.2"/><circle cx="1588.6" cy="370.8" r="7.2"/><circle cx="1590.8" cy="372.9" r="7.2"/><circle cx="1593" cy="377.2" r="7.2"/><circle cx="1595.2" cy="377.2" r="7.2"/><circle cx="1597.4" cy="372.6" r="7.2"/><circle cx="1599.6" cy="376.7" r="7.2"/><circle cx="1601.8" cy="373.3" r="7.2"/><circle cx="1604" cy="367" r="7.2"/><circle cx="1605.3" cy="384.1" r="7.2"/><circle cx="1606.2" cy="373.7" r="7.2"/><circle cx="1608.4" cy="369.7" r="7.2"/><circle cx="1610.6" cy="368.1" r="7.2"/><circle cx="1612.8" cy="379" r="7.2"/><circle cx="1615" cy="372.6" r="7.2"/><circle cx="1616.4" cy="356.5" r="7.2"/><circle cx="1617.2" cy="366.1" r="7.2"/><circle cx="1619.4" cy="367.9" r="7.2"/><circle cx="1621.6" cy="380.8" r="7.2"/><circle cx="1621.9" cy="357.4" r="7.2"/><circle cx="1623.8" cy="368.7" r="7.2"/><circle cx="1626" cy="374.7" r="7.2"/><circle cx="1628.2" cy="375.1" r="7.2"/><circle cx="1630.4" cy="375.5" r="7.2"/><circle cx="1632.6" cy="376.9" r="7.2"/><circle cx="1634.8" cy="391.5" r="7.2"/><circle cx="1634.8" cy="372.5" r="7.2"/><circle cx="1637" cy="373.6" r="7.2"/><circle cx="1639.2" cy="376.1" r="7.2"/><circle cx="1641.4" cy="375.5" r="7.2"/><circle cx="1643.6" cy="381.5" r="7.2"/><circle cx="1645.8" cy="385.4" r="7.2"/><circle cx="1648" cy="373.2" r="7.2"/><circle cx="1650.2" cy="380.6" r="7.2"/><circle cx="1652.4" cy="372.9" r="7.2"/><circle cx="1654.6" cy="374.5" r="7.2"/><circle cx="1656.8" cy="376.9" r="7.2"/><circle cx="1659" cy="378.8" r="7.2"/><circle cx="1661.2" cy="376.5" r="7.2"/><circle cx="1663.4" cy="366.2" r="7.2"/><circle cx="1665.6" cy="387.3" r="7.2"/><circle cx="1667.8" cy="379.6" r="7.2"/><circle cx="1670" cy="378.6" r="7.2"/><circle cx="1671.6" cy="397" r="7.2"/><circle cx="1672.2" cy="386" r="7.2"/><circle cx="1674.4" cy="380.3" r="7.2"/><circle cx="1676.6" cy="376.8" r="7.2"/><circle cx="1678.8" cy="387.3" r="7.2"/><circle cx="1681" cy="387.5" r="7.2"/><circle cx="1683.2" cy="381.6" r="7.2"/><circle cx="1685.4" cy="390.3" r="7.2"/><circle cx="1687.6" cy="388.3" r="7.2"/><circle cx="1689.8" cy="381" r="7.2"/><circle cx="1692" cy="396" r="7.2"/><circle cx="1694.2" cy="388.8" r="7.2"/><circle cx="1696.4" cy="382" r="7.2"/><circle cx="1698.6" cy="390.4" r="7.2"/><circle cx="1700.8" cy="389" r="7.2"/><circle cx="1703" cy="393.6" r="7.2"/><circle cx="1704.7" cy="402.5" r="7.2"/><circle cx="1705.2" cy="382.2" r="7.2"/><circle cx="1707.4" cy="394.7" r="7.2"/><circle cx="1709.6" cy="394.5" r="7.2"/><circle cx="1711.8" cy="393.6" r="7.2"/><circle cx="1714" cy="393.5" r="7.2"/><circle cx="1716.2" cy="397.4" r="7.2"/><circle cx="1718.4" cy="394.7" r="7.2"/><circle cx="1720.6" cy="391.9" r="7.2"/><circle cx="1722.8" cy="387" r="7.2"/><circle cx="1725" cy="396.9" r="7.2"/><circle cx="1727.2" cy="396.3" r="7.2"/><circle cx="1729.4" cy="392.8" r="7.2"/><circle cx="1731.6" cy="392" r="7.2"/><circle cx="1733.8" cy="394.9" r="7.2"/><circle cx="1736" cy="378.5" r="7.2"/><circle cx="1738.2" cy="392.9" r="7.2"/><circle cx="1740.4" cy="378.6" r="7.2"/><circle cx="1742.6" cy="392.5" r="7.2"/><circle cx="1744.8" cy="396.6" r="7.2"/><circle cx="1747" cy="400.9" r="7.2"/><circle cx="1749.2" cy="388.9" r="7.2"/><circle cx="1751.4" cy="393.4" r="7.2"/><circle cx="1753.6" cy="390.9" r="7.2"/><circle cx="1755.8" cy="380" r="7.2"/><circle cx="1757.8" cy="368.5" r="7.2"/><circle cx="1758" cy="394.9" r="7.2"/><circle cx="1760.2" cy="391.2" r="7.2"/><circle cx="1762.4" cy="391.6" r="7.2"/><circle cx="1764.6" cy="386.5" r="7.2"/><circle cx="1766.8" cy="391" r="7.2"/><circle cx="1769" cy="391.7" r="7.2"/><circle cx="1771.2" cy="397.7" r="7.2"/><circle cx="1773.4" cy="392.7" r="7.2"/><circle cx="1775.6" cy="408.9" r="7.2"/><circle cx="1777.8" cy="389.2" r="7.2"/><circle cx="1780" cy="389.9" r="7.2"/><circle cx="1782.2" cy="391" r="7.2"/><circle cx="1784.4" cy="387.1" r="7.2"/><circle cx="1786.6" cy="398.9" r="7.2"/><circle cx="1788.8" cy="394.5" r="7.2"/><circle cx="1791" cy="384.8" r="7.2"/><circle cx="1793.2" cy="391.8" r="7.2"/><circle cx="1795.4" cy="397.1" r="7.2"/><circle cx="1797.6" cy="384" r="7.2"/><circle cx="1799.8" cy="392" r="7.2"/><circle cx="1802" cy="390" r="7.2"/><circle cx="1804.2" cy="403.1" r="7.2"/><circle cx="1806.4" cy="393.3" r="7.2"/><circle cx="1808.6" cy="389.2" r="7.2"/><circle cx="1810.8" cy="388.4" r="7.2"/><circle cx="1813" cy="400.8" r="7.2"/><circle cx="1815.2" cy="388.9" r="7.2"/><circle cx="1817.4" cy="402.8" r="7.2"/><circle cx="1819.6" cy="383.3" r="7.2"/><circle cx="1821.8" cy="390.3" r="7.2"/><circle cx="1824" cy="390" r="7.2"/><circle cx="1826.2" cy="387.7" r="7.2"/><circle cx="1828.4" cy="390.2" r="7.2"/><circle cx="1830.6" cy="394.7" r="7.2"/><circle cx="1832.8" cy="387.9" r="7.2"/><circle cx="1835" cy="384" r="7.2"/><circle cx="1837.2" cy="398.1" r="7.2"/><circle cx="1839.4" cy="398.7" r="7.2"/><circle cx="1841.6" cy="387.7" r="7.2"/><circle cx="1843.8" cy="392.8" r="7.2"/><circle cx="1846" cy="378.2" r="7.2"/><circle cx="1848.2" cy="396.5" r="7.2"/><circle cx="1850.4" cy="384.5" r="7.2"/><circle cx="1852.6" cy="388.4" r="7.2"/><circle cx="1854.8" cy="402.2" r="7.2"/><circle cx="1857" cy="384.8" r="7.2"/><circle cx="1859.2" cy="391.3" r="7.2"/><circle cx="1861.4" cy="385.8" r="7.2"/><circle cx="1863.6" cy="381.9" r="7.2"/><circle cx="1865.8" cy="385.3" r="7.2"/><circle cx="1868" cy="392.6" r="7.2"/><circle cx="1870.2" cy="384.6" r="7.2"/><circle cx="1872.4" cy="388.2" r="7.2"/><circle cx="1874.6" cy="394.9" r="7.2"/><circle cx="1876.8" cy="390.4" r="7.2"/><circle cx="1879" cy="384.6" r="7.2"/><circle cx="1881.2" cy="398.8" r="7.2"/><circle cx="1883.4" cy="391.8" r="7.2"/><circle cx="1885.6" cy="398.4" r="7.2"/><circle cx="1887.8" cy="385.9" r="7.2"/><circle cx="1890" cy="399.8" r="7.2"/><circle cx="1892.2" cy="384.4" r="7.2"/><circle cx="1894.4" cy="382.4" r="7.2"/><circle cx="1896.6" cy="389.1" r="7.2"/><circle cx="1898.8" cy="389.3" r="7.2"/><circle cx="1901" cy="392.6" r="7.2"/><circle cx="1903.2" cy="388.4" r="7.2"/><circle cx="1905.4" cy="394.4" r="7.2"/><circle cx="1907.6" cy="398" r="7.2"/><circle cx="1909.8" cy="387.9" r="7.2"/><circle cx="1912" cy="384.3" r="7.2"/><circle cx="1914.2" cy="389.2" r="7.2"/><circle cx="1916.4" cy="395.4" r="7.2"/><circle cx="1918.6" cy="395.4" r="7.2"/><circle cx="1920.8" cy="389.5" r="7.2"/><circle cx="1923" cy="386.2" r="7.2"/><circle cx="1925.2" cy="391.1" r="7.2"/><circle cx="1927.4" cy="396.1" r="7.2"/><circle cx="1929.6" cy="387.6" r="7.2"/><circle cx="1931.8" cy="397.8" r="7.2"/><circle cx="1934" cy="392.4" r="7.2"/><circle cx="1936.2" cy="392.7" r="7.2"/><circle cx="1938.4" cy="388" r="7.2"/><circle cx="1940.6" cy="398.1" r="7.2"/><circle cx="1942.8" cy="391.4" r="7.2"/><circle cx="1945" cy="383.7" r="7.2"/><circle cx="1947.2" cy="395.4" r="7.2"/><circle cx="1949.4" cy="389.1" r="7.2"/><circle cx="1951.6" cy="396.7" r="7.2"/></g>
<rect x="1235.2" y="465.7" width="728.4" height="303.5" fill="none" stroke="#7c7c7c" stroke-width="2"/>
<line x1="1219" y1="769.2" x2="1236" y2="769.2" stroke="#7c7c7c" stroke-width="2"/>
<line x1="1219" y1="510.6" x2="1235.2" y2="510.6" stroke="#7c7c7c" stroke-width="1.6"/>
<line x1="1219" y1="640" x2="1235.2" y2="640" stroke="#7c7c7c" stroke-width="1.6"/>
<line x1="1232.3" y1="769.2" x2="1232.3" y2="778.2" stroke="#7c7c7c" stroke-width="1.8"/>
<line x1="1292.4" y1="769.2" x2="1292.4" y2="778.2" stroke="#7c7c7c" stroke-width="1.8"/>
<line x1="1352.4" y1="769.2" x2="1352.4" y2="786.2" stroke="#7c7c7c" stroke-width="1.8"/>
<line x1="1412.4" y1="769.2" x2="1412.4" y2="778.2" stroke="#7c7c7c" stroke-width="1.8"/>
<line x1="1472.5" y1="769.2" x2="1472.5" y2="778.2" stroke="#7c7c7c" stroke-width="1.8"/>
<line x1="1532.5" y1="769.2" x2="1532.5" y2="778.2" stroke="#7c7c7c" stroke-width="1.8"/>
<line x1="1592.5" y1="769.2" x2="1592.5" y2="778.2" stroke="#7c7c7c" stroke-width="1.8"/>
<line x1="1652.6" y1="769.2" x2="1652.6" y2="786.2" stroke="#7c7c7c" stroke-width="1.8"/>
<line x1="1712.6" y1="769.2" x2="1712.6" y2="778.2" stroke="#7c7c7c" stroke-width="1.8"/>
<line x1="1772.6" y1="769.2" x2="1772.6" y2="778.2" stroke="#7c7c7c" stroke-width="1.8"/>
<line x1="1832.6" y1="769.2" x2="1832.6" y2="778.2" stroke="#7c7c7c" stroke-width="1.8"/>
<line x1="1892.7" y1="769.2" x2="1892.7" y2="778.2" stroke="#7c7c7c" stroke-width="1.8"/>
<line x1="1952.7" y1="769.2" x2="1952.7" y2="786.2" stroke="#7c7c7c" stroke-width="1.8"/>
<text x="1352.4" y="824.6" font-size="29.5" fill="#3a3434" text-anchor="middle" font-weight="normal">738</text>
<text x="1652.6" y="824.6" font-size="29.5" fill="#3a3434" text-anchor="middle" font-weight="normal">739</text>
<text x="1952.7" y="824.6" font-size="29.5" fill="#3a3434" text-anchor="middle" font-weight="normal">740</text>
<text x="1609.3" y="864.5" font-size="30" fill="#3a3434" text-anchor="middle" font-weight="normal" textLength="231.7" lengthAdjust="spacingAndGlyphs">Wavelength (nm)</text>
<text x="1260" y="521.5" font-size="43.9" fill="#111" text-anchor="start" font-weight="bold" textLength="30.3" lengthAdjust="spacingAndGlyphs">C</text>
<text x="1844.8" y="524.9" font-size="28" fill="#111" text-anchor="start" font-weight="normal" textLength="40" lengthAdjust="spacingAndGlyphs">3 T</text>
<polyline points="1242,749.5 1244.2,751.9 1246.4,742.5 1248.6,742 1250.8,747.5 1253,753.6 1255.2,747.6 1257.4,740.6 1259.6,742.3 1261.8,745.5 1264,749.9 1266.2,745.6 1268.4,744 1270.6,744.5 1272.8,746.2 1275,742.2 1277.2,745.4 1279.4,746.5 1281.6,752.5 1283.8,745 1286,749.5 1288.2,740.6 1290.4,748.9 1292.6,745.6 1294.8,742.3 1297,744.3 1299.2,748.2 1301.4,742.6 1303.6,748.3 1305.8,750.3 1308,750.5 1310.2,750.3 1312.4,737.3 1314.6,744.2 1316.8,739.5 1319,746.4 1321.2,742.4 1323.4,742.8 1325.6,743.6 1327.8,738.8 1330,741.6 1332.2,738 1334.4,750.4 1335,727 1336.6,739.1 1338.8,741.2 1341,733.4 1343.2,734.6 1345.4,737.5 1347.6,744.7 1349.8,744.6 1352,742.4 1354.2,738.3 1359.3,729.3 1362.8,692.6 1367,705.3 1371.8,741.8 1374,743.9 1376.2,742.3 1378.4,739.1 1380.6,728.1 1382.8,736.7 1385,742 1387.2,734.7 1389.4,739.5 1391.6,742.9 1393.8,747.8 1396,735.9 1398.2,739.5 1400.4,742.9 1402.6,744.2 1404.8,735.7 1407,750 1409.2,738.2 1411.4,746.6 1413.6,740.8 1415.8,743.5 1418,749.1 1420.2,744.8 1422.4,742.2 1424.6,737.2 1426.8,738.7 1429,735.2 1431.2,750.5 1433.4,734.6 1435.6,730.1 1437.8,748.8 1440,747.1 1442.2,739.8 1444.4,745.1 1446.6,737.7 1448.8,738.8 1451,743.6 1453.2,743.1 1455.4,739.3 1457.6,748.5 1459.8,744.5 1462,741.9 1464.2,735.9 1466.4,741.8 1468.6,739.8 1470.8,740.8 1473,744.8 1473.7,768.9 1475.2,738.8 1477.4,742.6 1479.6,745 1481.8,743.1 1484,751.9 1486.2,733.9 1488.4,741.5 1490.6,736.5 1492.8,741.6 1495,753.2 1497.2,734.7 1499.4,740.8 1501.6,744.9 1503.8,742.2 1506,745.6 1508.2,734.4 1510.4,745.4 1512.6,736.6 1514.8,735.2 1517,743 1519.2,742.3 1521.4,736.7 1523.6,736.1 1525.8,738.6 1528,739.3 1530.2,738.3 1532.4,734.3 1534.6,728.3 1536.8,744.3 1539,739 1541.2,732.1 1543.4,729.9 1545.6,733 1547.8,733.5 1550,725.1 1552.2,740.1 1554.4,735 1556.6,730.8 1558.8,733.1 1561,731.5 1563.2,733.9 1565.4,728.5 1567.6,732.2 1569.8,732.1 1572,722.5 1574.2,720.5 1576.4,717.3 1578.6,718.9 1580.8,715.1 1583,716.3 1585.2,715.6 1587.4,714.6 1589.6,704.9 1591.8,712.9 1594,704.6 1596.2,703 1598.4,698.4 1600.6,688.9 1604.1,692.6 1607.7,674.2 1611.8,609.8 1616,539.9 1620.2,495.8 1624.3,527 1628.3,617.2 1632.6,658.6 1635.5,672 1639,680.6 1644.2,715.6 1647,722.8 1649.2,706.2 1651.4,713.2 1653.6,710.2 1655.6,707.3 1655.8,706.9 1658,708.3 1660.2,708.5 1662.4,711.9 1664.6,715.7 1666.8,720.1 1669,717.4 1671.2,723.1 1673.4,721.1 1675.6,720.5 1677.6,733.1 1677.8,719.6 1680,716.5 1682.2,714.2 1684.4,722.4 1685.9,708.2 1686.6,722.6 1688.8,725.7 1689.6,749.6 1691,726.5 1693.2,719.3 1695.4,722.7 1697.6,721.4 1699.8,732.6 1702,727.6 1704.2,729.3 1706.4,724.7 1708.6,723.4 1710.8,727.3 1713,730.2 1715.2,733.5 1717.4,724.2 1719.6,733.9 1721.8,728.5 1722,725 1724,730.7 1726.2,732.1 1728.4,732.2 1730.6,737 1732.8,739.3 1735,729 1735,737 1737.2,732.9 1739.4,737.9 1741.6,737.9 1743.8,740.6 1746,738 1748.2,729 1750.4,733.5 1752.6,735.5 1754.8,742.3 1757,737.4 1759.2,742.8 1761.4,740 1763.6,733 1765.8,739.3 1768,742.1 1770.2,741.7 1772.4,732.4 1774.6,741.8 1776.8,736.9 1779,729.4 1781.2,737 1783.4,730.2 1785.6,733.6 1787.8,747 1790,752.1 1792.2,745.2 1794.4,742.2 1796.6,749.5 1798.8,741.8 1801,735.3 1803.2,728.1 1805.4,744.7 1807.6,729.2 1809.8,726.2 1812,737.1 1814.2,740.7 1816.4,736.2 1818.6,745.6 1820.8,740.1 1823,741.6 1824.2,761 1825.2,742.8 1827.4,737.7 1829.6,741.7 1831.8,752.2 1834,736 1836.2,741.5 1838.4,743.3 1840.6,738 1842.8,740.4 1844.7,722.9 1845,732.2 1847.2,738.5 1849.4,740.9 1851.6,746.2 1853.8,745.4 1856,737.8 1858.2,735.2 1860.4,749.8 1862.6,745.1 1864.8,731.2 1867,739 1869.2,736.2 1871.4,737.7 1873.6,732.2 1875.8,738.6 1878,738.2 1880.2,739.6 1882.4,745.9 1884.6,741.9 1886.8,734.7 1889,732.1 1891.2,738.1 1893.4,746.5 1895.6,745.4 1897.7,723.6 1897.8,737.8 1900,746.6 1902.2,742.9 1904.4,737.8 1906.6,742.9 1908.8,740.4 1911,735.2 1913.2,738.6 1915.4,741.6 1917.6,747.4 1918.1,723.6 1919.8,735.6 1922,742 1924.2,740.9 1926.4,740.6 1928.6,734.7 1930.8,747.1 1933,747.3 1935.2,748.8 1937.4,743.2 1939.6,748.2 1941.8,743.5 1944,745.8 1946.2,739.2 1948.4,742 1950.6,739.2" fill="none" stroke="#e31019" stroke-width="1.6"/>
<g fill="#e31019"><circle cx="1242" cy="749.5" r="7.2"/><circle cx="1244.2" cy="751.9" r="7.2"/><circle cx="1246.4" cy="742.5" r="7.2"/><circle cx="1248.6" cy="742" r="7.2"/><circle cx="1250.8" cy="747.5" r="7.2"/><circle cx="1253" cy="753.6" r="7.2"/><circle cx="1255.2" cy="747.6" r="7.2"/><circle cx="1257.4" cy="740.6" r="7.2"/><circle cx="1259.6" cy="742.3" r="7.2"/><circle cx="1261.8" cy="745.5" r="7.2"/><circle cx="1264" cy="749.9" r="7.2"/><circle cx="1266.2" cy="745.6" r="7.2"/><circle cx="1268.4" cy="744" r="7.2"/><circle cx="1270.6" cy="744.5" r="7.2"/><circle cx="1272.8" cy="746.2" r="7.2"/><circle cx="1275" cy="742.2" r="7.2"/><circle cx="1277.2" cy="745.4" r="7.2"/><circle cx="1279.4" cy="746.5" r="7.2"/><circle cx="1281.6" cy="752.5" r="7.2"/><circle cx="1283.8" cy="745" r="7.2"/><circle cx="1286" cy="749.5" r="7.2"/><circle cx="1288.2" cy="740.6" r="7.2"/><circle cx="1290.4" cy="748.9" r="7.2"/><circle cx="1292.6" cy="745.6" r="7.2"/><circle cx="1294.8" cy="742.3" r="7.2"/><circle cx="1297" cy="744.3" r="7.2"/><circle cx="1299.2" cy="748.2" r="7.2"/><circle cx="1301.4" cy="742.6" r="7.2"/><circle cx="1303.6" cy="748.3" r="7.2"/><circle cx="1305.8" cy="750.3" r="7.2"/><circle cx="1308" cy="750.5" r="7.2"/><circle cx="1310.2" cy="750.3" r="7.2"/><circle cx="1312.4" cy="737.3" r="7.2"/><circle cx="1314.6" cy="744.2" r="7.2"/><circle cx="1316.8" cy="739.5" r="7.2"/><circle cx="1319" cy="746.4" r="7.2"/><circle cx="1321.2" cy="742.4" r="7.2"/><circle cx="1323.4" cy="742.8" r="7.2"/><circle cx="1325.6" cy="743.6" r="7.2"/><circle cx="1327.8" cy="738.8" r="7.2"/><circle cx="1330" cy="741.6" r="7.2"/><circle cx="1332.2" cy="738" r="7.2"/><circle cx="1334.4" cy="750.4" r="7.2"/><circle cx="1335" cy="727" r="7.2"/><circle cx="1336.6" cy="739.1" r="7.2"/><circle cx="1338.8" cy="741.2" r="7.2"/><circle cx="1341" cy="733.4" r="7.2"/><circle cx="1343.2" cy="734.6" r="7.2"/><circle cx="1345.4" cy="737.5" r="7.2"/><circle cx="1347.6" cy="744.7" r="7.2"/><circle cx="1349.8" cy="744.6" r="7.2"/><circle cx="1352" cy="742.4" r="7.2"/><circle cx="1354.2" cy="738.3" r="7.2"/><circle cx="1359.3" cy="729.3" r="7.2"/><circle cx="1362.8" cy="692.6" r="7.2"/><circle cx="1367" cy="705.3" r="7.2"/><circle cx="1371.8" cy="741.8" r="7.2"/><circle cx="1374" cy="743.9" r="7.2"/><circle cx="1376.2" cy="742.3" r="7.2"/><circle cx="1378.4" cy="739.1" r="7.2"/><circle cx="1380.6" cy="728.1" r="7.2"/><circle cx="1382.8" cy="736.7" r="7.2"/><circle cx="1385" cy="742" r="7.2"/><circle cx="1387.2" cy="734.7" r="7.2"/><circle cx="1389.4" cy="739.5" r="7.2"/><circle cx="1391.6" cy="742.9" r="7.2"/><circle cx="1393.8" cy="747.8" r="7.2"/><circle cx="1396" cy="735.9" r="7.2"/><circle cx="1398.2" cy="739.5" r="7.2"/><circle cx="1400.4" cy="742.9" r="7.2"/><circle cx="1402.6" cy="744.2" r="7.2"/><circle cx="1404.8" cy="735.7" r="7.2"/><circle cx="1407" cy="750" r="7.2"/><circle cx="1409.2" cy="738.2" r="7.2"/><circle cx="1411.4" cy="746.6" r="7.2"/><circle cx="1413.6" cy="740.8" r="7.2"/><circle cx="1415.8" cy="743.5" r="7.2"/><circle cx="1418" cy="749.1" r="7.2"/><circle cx="1420.2" cy="744.8" r="7.2"/><circle cx="1422.4" cy="742.2" r="7.2"/><circle cx="1424.6" cy="737.2" r="7.2"/><circle cx="1426.8" cy="738.7" r="7.2"/><circle cx="1429" cy="735.2" r="7.2"/><circle cx="1431.2" cy="750.5" r="7.2"/><circle cx="1433.4" cy="734.6" r="7.2"/><circle cx="1435.6" cy="730.1" r="7.2"/><circle cx="1437.8" cy="748.8" r="7.2"/><circle cx="1440" cy="747.1" r="7.2"/><circle cx="1442.2" cy="739.8" r="7.2"/><circle cx="1444.4" cy="745.1" r="7.2"/><circle cx="1446.6" cy="737.7" r="7.2"/><circle cx="1448.8" cy="738.8" r="7.2"/><circle cx="1451" cy="743.6" r="7.2"/><circle cx="1453.2" cy="743.1" r="7.2"/><circle cx="1455.4" cy="739.3" r="7.2"/><circle cx="1457.6" cy="748.5" r="7.2"/><circle cx="1459.8" cy="744.5" r="7.2"/><circle cx="1462" cy="741.9" r="7.2"/><circle cx="1464.2" cy="735.9" r="7.2"/><circle cx="1466.4" cy="741.8" r="7.2"/><circle cx="1468.6" cy="739.8" r="7.2"/><circle cx="1470.8" cy="740.8" r="7.2"/><circle cx="1473" cy="744.8" r="7.2"/><circle cx="1473.7" cy="768.9" r="7.2"/><circle cx="1475.2" cy="738.8" r="7.2"/><circle cx="1477.4" cy="742.6" r="7.2"/><circle cx="1479.6" cy="745" r="7.2"/><circle cx="1481.8" cy="743.1" r="7.2"/><circle cx="1484" cy="751.9" r="7.2"/><circle cx="1486.2" cy="733.9" r="7.2"/><circle cx="1488.4" cy="741.5" r="7.2"/><circle cx="1490.6" cy="736.5" r="7.2"/><circle cx="1492.8" cy="741.6" r="7.2"/><circle cx="1495" cy="753.2" r="7.2"/><circle cx="1497.2" cy="734.7" r="7.2"/><circle cx="1499.4" cy="740.8" r="7.2"/><circle cx="1501.6" cy="744.9" r="7.2"/><circle cx="1503.8" cy="742.2" r="7.2"/><circle cx="1506" cy="745.6" r="7.2"/><circle cx="1508.2" cy="734.4" r="7.2"/><circle cx="1510.4" cy="745.4" r="7.2"/><circle cx="1512.6" cy="736.6" r="7.2"/><circle cx="1514.8" cy="735.2" r="7.2"/><circle cx="1517" cy="743" r="7.2"/><circle cx="1519.2" cy="742.3" r="7.2"/><circle cx="1521.4" cy="736.7" r="7.2"/><circle cx="1523.6" cy="736.1" r="7.2"/><circle cx="1525.8" cy="738.6" r="7.2"/><circle cx="1528" cy="739.3" r="7.2"/><circle cx="1530.2" cy="738.3" r="7.2"/><circle cx="1532.4" cy="734.3" r="7.2"/><circle cx="1534.6" cy="728.3" r="7.2"/><circle cx="1536.8" cy="744.3" r="7.2"/><circle cx="1539" cy="739" r="7.2"/><circle cx="1541.2" cy="732.1" r="7.2"/><circle cx="1543.4" cy="729.9" r="7.2"/><circle cx="1545.6" cy="733" r="7.2"/><circle cx="1547.8" cy="733.5" r="7.2"/><circle cx="1550" cy="725.1" r="7.2"/><circle cx="1552.2" cy="740.1" r="7.2"/><circle cx="1554.4" cy="735" r="7.2"/><circle cx="1556.6" cy="730.8" r="7.2"/><circle cx="1558.8" cy="733.1" r="7.2"/><circle cx="1561" cy="731.5" r="7.2"/><circle cx="1563.2" cy="733.9" r="7.2"/><circle cx="1565.4" cy="728.5" r="7.2"/><circle cx="1567.6" cy="732.2" r="7.2"/><circle cx="1569.8" cy="732.1" r="7.2"/><circle cx="1572" cy="722.5" r="7.2"/><circle cx="1574.2" cy="720.5" r="7.2"/><circle cx="1576.4" cy="717.3" r="7.2"/><circle cx="1578.6" cy="718.9" r="7.2"/><circle cx="1580.8" cy="715.1" r="7.2"/><circle cx="1583" cy="716.3" r="7.2"/><circle cx="1585.2" cy="715.6" r="7.2"/><circle cx="1587.4" cy="714.6" r="7.2"/><circle cx="1589.6" cy="704.9" r="7.2"/><circle cx="1591.8" cy="712.9" r="7.2"/><circle cx="1594" cy="704.6" r="7.2"/><circle cx="1596.2" cy="703" r="7.2"/><circle cx="1598.4" cy="698.4" r="7.2"/><circle cx="1600.6" cy="688.9" r="7.2"/><circle cx="1604.1" cy="692.6" r="7.2"/><circle cx="1607.7" cy="674.2" r="7.2"/><circle cx="1611.8" cy="609.8" r="7.2"/><circle cx="1616" cy="539.9" r="7.2"/><circle cx="1620.2" cy="495.8" r="7.2"/><circle cx="1624.3" cy="527" r="7.2"/><circle cx="1628.3" cy="617.2" r="7.2"/><circle cx="1632.6" cy="658.6" r="7.2"/><circle cx="1635.5" cy="672" r="7.2"/><circle cx="1639" cy="680.6" r="7.2"/><circle cx="1644.2" cy="715.6" r="7.2"/><circle cx="1647" cy="722.8" r="7.2"/><circle cx="1649.2" cy="706.2" r="7.2"/><circle cx="1651.4" cy="713.2" r="7.2"/><circle cx="1653.6" cy="710.2" r="7.2"/><circle cx="1655.6" cy="707.3" r="7.2"/><circle cx="1655.8" cy="706.9" r="7.2"/><circle cx="1658" cy="708.3" r="7.2"/><circle cx="1660.2" cy="708.5" r="7.2"/><circle cx="1662.4" cy="711.9" r="7.2"/><circle cx="1664.6" cy="715.7" r="7.2"/><circle cx="1666.8" cy="720.1" r="7.2"/><circle cx="1669" cy="717.4" r="7.2"/><circle cx="1671.2" cy="723.1" r="7.2"/><circle cx="1673.4" cy="721.1" r="7.2"/><circle cx="1675.6" cy="720.5" r="7.2"/><circle cx="1677.6" cy="733.1" r="7.2"/><circle cx="1677.8" cy="719.6" r="7.2"/><circle cx="1680" cy="716.5" r="7.2"/><circle cx="1682.2" cy="714.2" r="7.2"/><circle cx="1684.4" cy="722.4" r="7.2"/><circle cx="1685.9" cy="708.2" r="7.2"/><circle cx="1686.6" cy="722.6" r="7.2"/><circle cx="1688.8" cy="725.7" r="7.2"/><circle cx="1689.6" cy="749.6" r="7.2"/><circle cx="1691" cy="726.5" r="7.2"/><circle cx="1693.2" cy="719.3" r="7.2"/><circle cx="1695.4" cy="722.7" r="7.2"/><circle cx="1697.6" cy="721.4" r="7.2"/><circle cx="1699.8" cy="732.6" r="7.2"/><circle cx="1702" cy="727.6" r="7.2"/><circle cx="1704.2" cy="729.3" r="7.2"/><circle cx="1706.4" cy="724.7" r="7.2"/><circle cx="1708.6" cy="723.4" r="7.2"/><circle cx="1710.8" cy="727.3" r="7.2"/><circle cx="1713" cy="730.2" r="7.2"/><circle cx="1715.2" cy="733.5" r="7.2"/><circle cx="1717.4" cy="724.2" r="7.2"/><circle cx="1719.6" cy="733.9" r="7.2"/><circle cx="1721.8" cy="728.5" r="7.2"/><circle cx="1722" cy="725" r="7.2"/><circle cx="1724" cy="730.7" r="7.2"/><circle cx="1726.2" cy="732.1" r="7.2"/><circle cx="1728.4" cy="732.2" r="7.2"/><circle cx="1730.6" cy="737" r="7.2"/><circle cx="1732.8" cy="739.3" r="7.2"/><circle cx="1735" cy="729" r="7.2"/><circle cx="1735" cy="737" r="7.2"/><circle cx="1737.2" cy="732.9" r="7.2"/><circle cx="1739.4" cy="737.9" r="7.2"/><circle cx="1741.6" cy="737.9" r="7.2"/><circle cx="1743.8" cy="740.6" r="7.2"/><circle cx="1746" cy="738" r="7.2"/><circle cx="1748.2" cy="729" r="7.2"/><circle cx="1750.4" cy="733.5" r="7.2"/><circle cx="1752.6" cy="735.5" r="7.2"/><circle cx="1754.8" cy="742.3" r="7.2"/><circle cx="1757" cy="737.4" r="7.2"/><circle cx="1759.2" cy="742.8" r="7.2"/><circle cx="1761.4" cy="740" r="7.2"/><circle cx="1763.6" cy="733" r="7.2"/><circle cx="1765.8" cy="739.3" r="7.2"/><circle cx="1768" cy="742.1" r="7.2"/><circle cx="1770.2" cy="741.7" r="7.2"/><circle cx="1772.4" cy="732.4" r="7.2"/><circle cx="1774.6" cy="741.8" r="7.2"/><circle cx="1776.8" cy="736.9" r="7.2"/><circle cx="1779" cy="729.4" r="7.2"/><circle cx="1781.2" cy="737" r="7.2"/><circle cx="1783.4" cy="730.2" r="7.2"/><circle cx="1785.6" cy="733.6" r="7.2"/><circle cx="1787.8" cy="747" r="7.2"/><circle cx="1790" cy="752.1" r="7.2"/><circle cx="1792.2" cy="745.2" r="7.2"/><circle cx="1794.4" cy="742.2" r="7.2"/><circle cx="1796.6" cy="749.5" r="7.2"/><circle cx="1798.8" cy="741.8" r="7.2"/><circle cx="1801" cy="735.3" r="7.2"/><circle cx="1803.2" cy="728.1" r="7.2"/><circle cx="1805.4" cy="744.7" r="7.2"/><circle cx="1807.6" cy="729.2" r="7.2"/><circle cx="1809.8" cy="726.2" r="7.2"/><circle cx="1812" cy="737.1" r="7.2"/><circle cx="1814.2" cy="740.7" r="7.2"/><circle cx="1816.4" cy="736.2" r="7.2"/><circle cx="1818.6" cy="745.6" r="7.2"/><circle cx="1820.8" cy="740.1" r="7.2"/><circle cx="1823" cy="741.6" r="7.2"/><circle cx="1824.2" cy="761" r="7.2"/><circle cx="1825.2" cy="742.8" r="7.2"/><circle cx="1827.4" cy="737.7" r="7.2"/><circle cx="1829.6" cy="741.7" r="7.2"/><circle cx="1831.8" cy="752.2" r="7.2"/><circle cx="1834" cy="736" r="7.2"/><circle cx="1836.2" cy="741.5" r="7.2"/><circle cx="1838.4" cy="743.3" r="7.2"/><circle cx="1840.6" cy="738" r="7.2"/><circle cx="1842.8" cy="740.4" r="7.2"/><circle cx="1844.7" cy="722.9" r="7.2"/><circle cx="1845" cy="732.2" r="7.2"/><circle cx="1847.2" cy="738.5" r="7.2"/><circle cx="1849.4" cy="740.9" r="7.2"/><circle cx="1851.6" cy="746.2" r="7.2"/><circle cx="1853.8" cy="745.4" r="7.2"/><circle cx="1856" cy="737.8" r="7.2"/><circle cx="1858.2" cy="735.2" r="7.2"/><circle cx="1860.4" cy="749.8" r="7.2"/><circle cx="1862.6" cy="745.1" r="7.2"/><circle cx="1864.8" cy="731.2" r="7.2"/><circle cx="1867" cy="739" r="7.2"/><circle cx="1869.2" cy="736.2" r="7.2"/><circle cx="1871.4" cy="737.7" r="7.2"/><circle cx="1873.6" cy="732.2" r="7.2"/><circle cx="1875.8" cy="738.6" r="7.2"/><circle cx="1878" cy="738.2" r="7.2"/><circle cx="1880.2" cy="739.6" r="7.2"/><circle cx="1882.4" cy="745.9" r="7.2"/><circle cx="1884.6" cy="741.9" r="7.2"/><circle cx="1886.8" cy="734.7" r="7.2"/><circle cx="1889" cy="732.1" r="7.2"/><circle cx="1891.2" cy="738.1" r="7.2"/><circle cx="1893.4" cy="746.5" r="7.2"/><circle cx="1895.6" cy="745.4" r="7.2"/><circle cx="1897.7" cy="723.6" r="7.2"/><circle cx="1897.8" cy="737.8" r="7.2"/><circle cx="1900" cy="746.6" r="7.2"/><circle cx="1902.2" cy="742.9" r="7.2"/><circle cx="1904.4" cy="737.8" r="7.2"/><circle cx="1906.6" cy="742.9" r="7.2"/><circle cx="1908.8" cy="740.4" r="7.2"/><circle cx="1911" cy="735.2" r="7.2"/><circle cx="1913.2" cy="738.6" r="7.2"/><circle cx="1915.4" cy="741.6" r="7.2"/><circle cx="1917.6" cy="747.4" r="7.2"/><circle cx="1918.1" cy="723.6" r="7.2"/><circle cx="1919.8" cy="735.6" r="7.2"/><circle cx="1922" cy="742" r="7.2"/><circle cx="1924.2" cy="740.9" r="7.2"/><circle cx="1926.4" cy="740.6" r="7.2"/><circle cx="1928.6" cy="734.7" r="7.2"/><circle cx="1930.8" cy="747.1" r="7.2"/><circle cx="1933" cy="747.3" r="7.2"/><circle cx="1935.2" cy="748.8" r="7.2"/><circle cx="1937.4" cy="743.2" r="7.2"/><circle cx="1939.6" cy="748.2" r="7.2"/><circle cx="1941.8" cy="743.5" r="7.2"/><circle cx="1944" cy="745.8" r="7.2"/><circle cx="1946.2" cy="739.2" r="7.2"/><circle cx="1948.4" cy="742" r="7.2"/><circle cx="1950.6" cy="739.2" r="7.2"/></g>
<text x="53.3" y="1061.5" font-size="43.4" fill="#111" text-anchor="start" font-weight="bold" textLength="30.1" lengthAdjust="spacingAndGlyphs">D</text>
<rect x="141.3" y="1055" width="823.4" height="78" fill="url(#pdms)"/>
<text x="792.5" y="1113.8" font-size="52.5" fill="#ffffff" stroke="#ffffff" stroke-width="0.7" textLength="143" lengthAdjust="spacingAndGlyphs">PDMS</text>
<rect x="164.2" y="1136.3" width="777.3" height="15.1" fill="#cc0078"/>
<text x="177.8" y="1209" font-size="51" fill="#cf1482" text-anchor="start" font-weight="normal" textLength="69" lengthAdjust="spacingAndGlyphs">LM</text>
<path d="M396.1,1170 L403.9,1170 L403.9,1208.5 L410.5,1208.5 L400,1227 L389.5,1208.5 L396.1,1208.5 L396.1,1170 Z" fill="#141414"/>
<path d="M473.6,1170 L481.4,1170 L481.4,1208.5 L488,1208.5 L477.5,1227 L467,1208.5 L473.6,1208.5 L473.6,1170 Z" fill="#141414"/>
<path d="M551.1,1170 L558.9,1170 L558.9,1208.5 L565.5,1208.5 L555,1227 L544.5,1208.5 L551.1,1208.5 L551.1,1170 Z" fill="#141414"/>
<path d="M628.8,1170 L636.6,1170 L636.6,1208.5 L643.2,1208.5 L632.7,1227 L622.2,1208.5 L628.8,1208.5 L628.8,1170 Z" fill="#141414"/>
<path d="M707.1,1170 L714.9,1170 L714.9,1208.5 L721.5,1208.5 L711,1227 L700.5,1208.5 L707.1,1208.5 L707.1,1170 Z" fill="#141414"/>
<ellipse cx="245.7" cy="1306" rx="16.2" ry="39" fill="url(#bump)"/>
<ellipse cx="347.8" cy="1306" rx="16.2" ry="39" fill="url(#bump)"/>
<ellipse cx="450.7" cy="1306" rx="16.2" ry="39" fill="url(#bump)"/>
<ellipse cx="553" cy="1306" rx="16.2" ry="39" fill="url(#bump)"/>
<ellipse cx="656" cy="1306" rx="16.2" ry="39" fill="url(#bump)"/>
<ellipse cx="758.3" cy="1306" rx="16.2" ry="39" fill="url(#bump)"/>
<ellipse cx="860.7" cy="1306" rx="16.2" ry="39" fill="url(#bump)"/>
<rect x="146" y="1319.2" width="814.2" height="83.4" fill="url(#sub)"/>
<text x="782" y="1376" font-size="51.5" fill="#ffffff" stroke="#ffffff" stroke-width="0.8" textLength="156" lengthAdjust="spacingAndGlyphs">Si/SiO<tspan font-size="34" dy="12">2</tspan></text>
<ellipse cx="245.3" cy="1559" rx="16" ry="38" fill="url(#bump)"/>
<ellipse cx="398.6" cy="1559" rx="16" ry="38" fill="url(#bump)"/>
<ellipse cx="552.7" cy="1559" rx="16" ry="38" fill="url(#bump)"/>
<ellipse cx="706.7" cy="1559" rx="16" ry="38" fill="url(#bump)"/>
<ellipse cx="860.6" cy="1559" rx="16" ry="38" fill="url(#bump)"/>
<rect x="145.7" y="1573" width="814.8" height="71.4" fill="url(#sub)"/>
<path d="M146.4,1566.3 L186.5,1566.3 C210.5,1566.3 220.5,1509.8 246.5,1509.8 C272.5,1509.8 282.5,1566.3 306.5,1566.3 L339.6,1566.3 C363.6,1566.3 373.6,1509.5 399.6,1509.5 C425.6,1509.5 435.6,1566.3 459.6,1566.3 L493,1566.3 C517,1566.3 527,1511.5 553,1511.5 C579,1511.5 589,1566.3 613,1566.3 L647,1566.3 C671,1566.3 681,1504 707,1504 C733,1504 743,1566.3 767,1566.3 L801,1566.3 C825,1566.3 835,1509.5 861,1509.5 C887,1509.5 897,1566.3 921,1566.3 L941.8,1566.3" fill="none" stroke="#cc0078" stroke-width="12"/>
<text x="1048.4" y="1046.1" font-size="42.7" fill="#111" text-anchor="start" font-weight="bold" textLength="26.3" lengthAdjust="spacingAndGlyphs">E</text>
<rect x="1131.5" y="1013.5" width="777.8" height="172.5" fill="#4e204e"/>
<rect x="1578.5" y="1136.4" width="149.3" height="10.5" fill="#5a2b5b" opacity="0.5"/>
<rect x="1735.1" y="1142" width="67.4" height="3.4" fill="#46193f" opacity="0.5"/>
<rect x="1211.5" y="1091.4" width="67" height="7.4" fill="#46193f" opacity="0.5"/>
<rect x="1139.4" y="1049.8" width="71.9" height="10.3" fill="#42163d" opacity="0.5"/>
<rect x="1244.9" y="1145.5" width="50.8" height="7.9" fill="#46193f" opacity="0.5"/>
<rect x="1225.2" y="1174.4" width="30.8" height="9.2" fill="#46193f" opacity="0.5"/>
<rect x="1758.1" y="1061.7" width="150.9" height="7.3" fill="#46193f" opacity="0.5"/>
<rect x="1260.8" y="1173.8" width="59.5" height="10.7" fill="#42163d" opacity="0.5"/>
<rect x="1345.1" y="1073.6" width="54.9" height="4.2" fill="#5a2b5b" opacity="0.5"/>
<rect x="1368.9" y="1148.9" width="117.9" height="7.8" fill="#582a5a" opacity="0.5"/>
<rect x="1177.5" y="1072.6" width="75.9" height="8.6" fill="#46193f" opacity="0.5"/>
<rect x="1476.5" y="1130.3" width="38.6" height="10.8" fill="#5a2b5b" opacity="0.5"/>
<rect x="1813.4" y="1073" width="90.6" height="7.4" fill="#42163d" opacity="0.5"/>
<rect x="1393.7" y="1109.5" width="31.4" height="3.4" fill="#46193f" opacity="0.5"/>
<rect x="1579.1" y="1171.5" width="47.9" height="5" fill="#42163d" opacity="0.5"/>
<rect x="1378" y="1072.5" width="108.7" height="9.2" fill="#5a2b5b" opacity="0.5"/>
<rect x="1554.6" y="1142.9" width="85.1" height="5.4" fill="#42163d" opacity="0.5"/>
<rect x="1811" y="1029" width="81.1" height="7.9" fill="#46193f" opacity="0.5"/>
<rect x="1374.8" y="1166.5" width="111.8" height="5.5" fill="#582a5a" opacity="0.5"/>
<rect x="1350.4" y="1145.8" width="124" height="8.8" fill="#582a5a" opacity="0.5"/>
<rect x="1847.6" y="1040.7" width="37.3" height="10.9" fill="#42163d" opacity="0.5"/>
<rect x="1152.9" y="1136.2" width="81.6" height="5" fill="#42163d" opacity="0.5"/>
<rect x="1234.9" y="1175.5" width="125.7" height="9.4" fill="#582a5a" opacity="0.5"/>
<rect x="1733.7" y="1035.5" width="139.7" height="10.6" fill="#42163d" opacity="0.5"/>
<rect x="1206.8" y="1085.7" width="52.4" height="9.8" fill="#582a5a" opacity="0.5"/>
<rect x="1231.7" y="1166.1" width="123.1" height="4.4" fill="#42163d" opacity="0.5"/>
<rect x="1821.3" y="1127.7" width="77.7" height="5.2" fill="#42163d" opacity="0.5"/>
<rect x="1420.7" y="1038.2" width="86.6" height="10.9" fill="#46193f" opacity="0.5"/>
<rect x="1581.4" y="1096.4" width="80.8" height="3.7" fill="#582a5a" opacity="0.5"/>
<rect x="1500.9" y="1104.4" width="105.4" height="3.5" fill="#582a5a" opacity="0.5"/>
<rect x="1630.1" y="1123.6" width="143.9" height="5.9" fill="#582a5a" opacity="0.5"/>
<rect x="1731.4" y="1057.7" width="177.1" height="8.7" fill="#582a5a" opacity="0.5"/>
<rect x="1597.8" y="1109.8" width="31.7" height="7.4" fill="#582a5a" opacity="0.5"/>
<rect x="1364.7" y="1059.2" width="73.3" height="7" fill="#582a5a" opacity="0.5"/>
<rect x="1380.5" y="1120.3" width="140.7" height="9.6" fill="#582a5a" opacity="0.5"/>
<rect x="1794.1" y="1042.5" width="114.9" height="6.6" fill="#582a5a" opacity="0.5"/>
<rect x="1818.7" y="1099.5" width="90.3" height="4.3" fill="#582a5a" opacity="0.5"/>
<rect x="1804.9" y="1092.7" width="104.1" height="8.8" fill="#42163d" opacity="0.5"/>
<rect x="1253.7" y="1142.8" width="117.1" height="8.3" fill="#42163d" opacity="0.5"/>
<rect x="1347.9" y="1105.3" width="160.1" height="5.2" fill="#5a2b5b" opacity="0.5"/>
<rect x="1270.8" y="1110.8" width="123.6" height="4.4" fill="#46193f" opacity="0.5"/>
<rect x="1584.2" y="1020.9" width="100.7" height="4.8" fill="#5a2b5b" opacity="0.5"/>
<rect x="1772.1" y="1032.3" width="136.9" height="6.9" fill="#5a2b5b" opacity="0.5"/>
<rect x="1429.2" y="1071.9" width="129.4" height="3.6" fill="#46193f" opacity="0.5"/>
<rect x="1301.2" y="1163" width="30.1" height="6.2" fill="#582a5a" opacity="0.5"/>
<rect x="1746.2" y="1157" width="133.3" height="7.4" fill="#5a2b5b" opacity="0.5"/>
<rect x="1526" y="1063.7" width="74.3" height="7.1" fill="#582a5a" opacity="0.5"/>
<rect x="1820" y="1149.1" width="89" height="9.5" fill="#582a5a" opacity="0.5"/>
<rect x="1466.6" y="1039.9" width="87.4" height="6.8" fill="#46193f" opacity="0.5"/>
<rect x="1827" y="1114.4" width="82" height="10.1" fill="#5a2b5b" opacity="0.5"/>
<rect x="1404.9" y="1067.8" width="167.5" height="7.3" fill="#582a5a" opacity="0.5"/>
<rect x="1583.2" y="1161.1" width="86.4" height="6.5" fill="#46193f" opacity="0.5"/>
<rect x="1485.3" y="1093.1" width="136.2" height="6.1" fill="#46193f" opacity="0.5"/>
<rect x="1559" y="1056.9" width="177.1" height="7" fill="#42163d" opacity="0.5"/>
<rect x="1144.2" y="1170" width="76.1" height="10.4" fill="#46193f" opacity="0.5"/>
<rect x="1473.4" y="1034.1" width="123.3" height="6.5" fill="#582a5a" opacity="0.5"/>
<rect x="1158.8" y="1036.5" width="88.9" height="6.8" fill="#582a5a" opacity="0.5"/>
<rect x="1305.3" y="1092.3" width="35.5" height="6.9" fill="#46193f" opacity="0.5"/>
<rect x="1649.4" y="1061.1" width="103.8" height="10.9" fill="#5a2b5b" opacity="0.5"/>
<rect x="1141.6" y="1034.8" width="72.4" height="8.7" fill="#582a5a" opacity="0.5"/>
<rect x="1656.5" y="1018.4" width="82.5" height="8.5" fill="#46193f" opacity="0.5"/>
<rect x="1156.2" y="1055.6" width="98.3" height="10.3" fill="#46193f" opacity="0.5"/>
<rect x="1140.5" y="1142.4" width="94.2" height="7.6" fill="#42163d" opacity="0.5"/>
<rect x="1748.3" y="1152.8" width="101.4" height="8.5" fill="#46193f" opacity="0.5"/>
<rect x="1777.2" y="1090.7" width="131.8" height="5.4" fill="#5a2b5b" opacity="0.5"/>
<rect x="1630.1" y="1085.4" width="73" height="9.2" fill="#582a5a" opacity="0.5"/>
<rect x="1232.7" y="1092.9" width="112.4" height="7" fill="#582a5a" opacity="0.5"/>
<rect x="1517.3" y="1084.2" width="111.2" height="3.4" fill="#46193f" opacity="0.5"/>
<rect x="1322.4" y="1028.1" width="39.4" height="10.5" fill="#582a5a" opacity="0.5"/>
<rect x="1650.3" y="1175.5" width="179.8" height="8.6" fill="#5a2b5b" opacity="0.5"/>
<ellipse cx="1206" cy="1100" rx="66" ry="50" fill="url(#halo)"/>
<ellipse cx="1490" cy="1102" rx="75" ry="52" fill="url(#halo)"/>
<ellipse cx="1780" cy="1104" rx="66" ry="52" fill="url(#halo)"/>
<ellipse cx="1730" cy="1140" rx="42" ry="17" fill="url(#halo)"/>
<rect x="1235" y="1086" width="56" height="25" fill="#441841" opacity="0.9"/>
<ellipse cx="1208" cy="1100" rx="31" ry="34" fill="url(#spot)"/>
<ellipse cx="1494" cy="1100" rx="38" ry="33" fill="url(#spot)"/>
<ellipse cx="1781" cy="1104" rx="32" ry="34" fill="url(#spot)"/>
<path d="M1202.9,1090.7 L1217.9,1105.7 M1202.9,1105.7 L1217.9,1090.7" stroke="#2f9e48" stroke-width="3"/>
<path d="M1482.2,1090.7 L1497.2,1105.7 M1482.2,1105.7 L1497.2,1090.7" stroke="#2f9e48" stroke-width="3"/>
<path d="M1773.9,1090.9 L1788.9,1105.9 M1773.9,1105.9 L1788.9,1090.9" stroke="#2f9e48" stroke-width="3"/>
<rect x="1304.4" y="1035.5" width="75" height="17.4" fill="#ffffff"/>
<text x="1283.2" y="1108" font-size="46.5" fill="#f3eef3" text-anchor="start" font-weight="normal" textLength="104.5" lengthAdjust="spacingAndGlyphs">1 μm</text>
<rect x="1122" y="1007" width="787.5" height="6.8" fill="url(#gdotsH)"/>
<rect x="1122" y="1185.6" width="787.5" height="6.6" fill="url(#gdotsH)"/>
<rect x="1121.6" y="1007" width="7" height="185" fill="url(#gdotsV)"/>
<text x="1048.9" y="1287.6" font-size="42.9" fill="#111" text-anchor="start" font-weight="bold" textLength="26.6" lengthAdjust="spacingAndGlyphs">F</text>
<rect x="1287.4" y="1254.9" width="12.3" height="389.6" fill="#da8bc6"/>
<rect x="1776.7" y="1254.9" width="13" height="392.6" fill="#6fb743"/>
<line x1="1184.7" y1="1254.9" x2="1184.7" y2="1261.9" stroke="#222" stroke-width="1.8"/>
<line x1="1184.7" y1="1644.5" x2="1184.7" y2="1637.5" stroke="#222" stroke-width="1.8"/>
<line x1="1232.9" y1="1254.9" x2="1232.9" y2="1267.9" stroke="#222" stroke-width="1.8"/>
<line x1="1232.9" y1="1644.5" x2="1232.9" y2="1631.5" stroke="#222" stroke-width="1.8"/>
<line x1="1281.2" y1="1254.9" x2="1281.2" y2="1261.9" stroke="#222" stroke-width="1.8"/>
<line x1="1281.2" y1="1644.5" x2="1281.2" y2="1637.5" stroke="#222" stroke-width="1.8"/>
<line x1="1329.4" y1="1254.9" x2="1329.4" y2="1267.9" stroke="#222" stroke-width="1.8"/>
<line x1="1329.4" y1="1644.5" x2="1329.4" y2="1631.5" stroke="#222" stroke-width="1.8"/>
<text x="1136.4" y="1679.7" font-size="27.8" fill="#1e1e1e" text-anchor="middle" font-weight="bold">700</text>
<text x="1232.9" y="1679.7" font-size="27.8" fill="#1e1e1e" text-anchor="middle" font-weight="bold">750</text>
<text x="1329.4" y="1679.7" font-size="27.8" fill="#1e1e1e" text-anchor="middle" font-weight="bold">800</text>
<line x1="1446.8" y1="1254.9" x2="1446.8" y2="1261.9" stroke="#222" stroke-width="1.8"/>
<line x1="1446.8" y1="1644.5" x2="1446.8" y2="1637.5" stroke="#222" stroke-width="1.8"/>
<line x1="1495.1" y1="1254.9" x2="1495.1" y2="1267.9" stroke="#222" stroke-width="1.8"/>
<line x1="1495.1" y1="1644.5" x2="1495.1" y2="1631.5" stroke="#222" stroke-width="1.8"/>
<line x1="1543.3" y1="1254.9" x2="1543.3" y2="1261.9" stroke="#222" stroke-width="1.8"/>
<line x1="1543.3" y1="1644.5" x2="1543.3" y2="1637.5" stroke="#222" stroke-width="1.8"/>
<line x1="1591.6" y1="1254.9" x2="1591.6" y2="1267.9" stroke="#222" stroke-width="1.8"/>
<line x1="1591.6" y1="1644.5" x2="1591.6" y2="1631.5" stroke="#222" stroke-width="1.8"/>
<text x="1398.6" y="1679.7" font-size="27.8" fill="#1e1e1e" text-anchor="middle" font-weight="bold">700</text>
<text x="1495.1" y="1679.7" font-size="27.8" fill="#1e1e1e" text-anchor="middle" font-weight="bold">750</text>
<text x="1591.6" y="1679.7" font-size="27.8" fill="#1e1e1e" text-anchor="middle" font-weight="bold">800</text>
<line x1="1707.7" y1="1254.9" x2="1707.7" y2="1261.9" stroke="#222" stroke-width="1.8"/>
<line x1="1707.7" y1="1644.5" x2="1707.7" y2="1637.5" stroke="#222" stroke-width="1.8"/>
<line x1="1755.9" y1="1254.9" x2="1755.9" y2="1267.9" stroke="#222" stroke-width="1.8"/>
<line x1="1755.9" y1="1644.5" x2="1755.9" y2="1631.5" stroke="#222" stroke-width="1.8"/>
<line x1="1804.2" y1="1254.9" x2="1804.2" y2="1261.9" stroke="#222" stroke-width="1.8"/>
<line x1="1804.2" y1="1644.5" x2="1804.2" y2="1637.5" stroke="#222" stroke-width="1.8"/>
<line x1="1852.4" y1="1254.9" x2="1852.4" y2="1267.9" stroke="#222" stroke-width="1.8"/>
<line x1="1852.4" y1="1644.5" x2="1852.4" y2="1631.5" stroke="#222" stroke-width="1.8"/>
<text x="1659.4" y="1679.7" font-size="27.8" fill="#1e1e1e" text-anchor="middle" font-weight="bold">700</text>
<text x="1755.9" y="1679.7" font-size="27.8" fill="#1e1e1e" text-anchor="middle" font-weight="bold">750</text>
<text x="1852.4" y="1679.7" font-size="27.8" fill="#1e1e1e" text-anchor="middle" font-weight="bold">800</text>
<polyline points="1137.5,1643.7 1159.7,1643.3 1172.1,1641.8 1184.4,1640.3 1189.4,1637.5 1194.3,1634.4 1199.3,1632.5 1204.2,1631.9 1211.6,1630.1 1216.6,1629.4 1218.4,1620.8 1220.3,1628.2 1222.8,1622 1226.5,1618.3 1228.9,1619.6 1230.8,1630.7 1233.3,1632.5 1235.7,1629.4 1238.8,1624.5 1241.3,1617.1 1243.1,1549 1245,1614.6 1246.9,1625.7 1251.2,1629.4 1254.9,1633.2 1258.6,1630.7 1262.3,1625.7 1267.3,1627 1271,1630.7 1275.9,1629.4 1278.4,1622 1279.9,1411.2 1282.2,1630.7 1285.8,1635.6 1288.8,1634.4 1290.7,1610.9 1292.4,1282.7 1294.5,1530 1295.7,1631.9 1298.2,1627 1303.1,1625.7 1305.6,1620.8 1308.1,1631.9 1313,1637.5 1320.4,1640 1327.8,1640.6 1329.7,1633.2 1331.5,1640.6 1335.2,1638.1 1337.7,1640.6 1345.1,1638.1 1347.6,1633.2 1350.1,1638.1 1355,1638.7 1362.4,1641.8 1369.9,1643 1377.3,1643.3" fill="none" stroke="#111" stroke-width="2.6" stroke-linejoin="round"/>
<polyline points="1400,1637.3 1400.7,1634.3 1401.4,1638.7 1402.1,1632.1 1402.8,1637.7 1403.5,1634.2 1404.2,1638 1404.9,1631.8 1405.6,1637.6 1406.3,1631.8 1407,1639.5 1407.7,1634 1408.4,1639 1409.1,1632.8 1409.8,1638.5 1410.5,1630.7 1411.2,1637.3 1411.9,1634.4 1412.6,1640.4 1413.3,1632.9 1414,1637.6 1414.7,1633.1 1415.4,1638.2 1416.1,1630.8 1416.8,1637.6 1417.5,1633.5 1418.2,1639 1418.9,1632.2 1419.6,1640.3 1420.3,1631.1 1421,1638 1421.7,1633.4 1422.4,1639.8 1423.1,1630.5 1423.8,1636.8 1424.5,1631.4 1425.2,1639.9 1425.9,1631.7 1426.6,1637.4 1427.3,1631.1 1428,1639.3 1428.7,1633.3 1429.4,1638.9 1430.1,1633.2 1430.8,1636.6 1431.5,1632.7 1432.2,1637.7 1432.9,1632.4 1433.6,1638.8 1434.3,1630.8 1435,1640 1435.7,1630.2 1436.4,1640.1 1437.1,1630.9 1437.8,1637.5 1438.5,1633.1 1439.2,1638.6 1439.9,1631.7 1440.6,1638.5 1441.3,1632.9 1442,1636.2 1442.7,1629.2 1443.4,1637.1 1444.1,1629.5 1444.8,1634.7 1445.5,1630 1446.2,1637.2 1446.9,1628.4 1447.6,1637.1 1448.3,1629.6 1449,1634 1449.7,1625.5 1450.4,1632.3 1451.1,1623.8 1451.8,1631.2 1452.5,1624.8 1453.2,1627.6 1453.9,1619.4 1454.6,1626 1455.3,1621 1456,1625.3 1456.7,1617 1457.4,1625.9 1458.1,1616.3 1458.8,1622.7 1459.5,1613.2 1460.2,1620.2 1460.9,1613.1 1461.6,1621 1462.3,1609.9 1463,1617 1463.7,1611.3 1464.4,1616.6 1465.1,1605.4 1465.8,1619.8 1466.5,1601.5 1467.2,1619.9 1467.9,1605.4 1468.6,1619.4 1469.3,1597 1470,1614.9 1470.7,1604.4 1471.4,1614.4 1472.1,1600.1 1472.8,1611.3 1473.5,1601.8 1474.2,1610.1 1474.9,1592.9 1475.6,1608.7 1476.3,1595 1477,1609.6 1477.7,1598.8 1478.4,1614.9 1479.1,1597.2 1479.8,1608 1480.5,1595.3 1481.2,1612.2 1481.9,1594.2 1482.6,1613 1483.3,1594.9 1484,1609.1 1484.7,1591.6 1485.4,1607.7 1486.1,1589.9 1486.8,1606.9 1487.5,1593.8 1488.2,1602.6 1488.9,1585.3 1489.6,1608.3 1490.3,1581.6 1491,1607 1491.7,1583.8 1492.4,1600 1493.1,1578.6 1493.8,1598.4 1494.5,1582.3 1495.2,1596.8 1495.9,1580.2 1496.6,1596.6 1497.3,1576.9 1498,1599.5 1498.7,1572.7 1499.4,1590.8 1500.1,1566.5 1500.8,1594.5 1501.5,1559.7 1502.2,1580.2 1502.9,1556.9 1503.6,1590.3 1504.3,1557.1 1505,1574.6 1505.7,1545.7 1506.4,1578.7 1507.1,1555.4 1507.8,1587.2 1508.5,1558 1509.2,1579.2 1509.9,1566.3 1510.6,1587.8 1511.3,1567 1512,1593.7 1512.7,1571.8 1513.4,1594.1 1514.1,1584 1514.8,1605.6 1515.5,1586.6 1516.2,1608 1516.9,1585.4 1517.6,1607.4 1518.3,1596.7 1519,1607 1519.7,1596.6 1520.4,1611.6 1521.1,1599.7 1521.8,1609.3 1522.5,1601.5 1523.2,1611.8 1523.9,1590.3 1524.6,1609.8 1525.3,1585 1526,1612.3 1526.7,1590.8 1527.4,1612.7 1528.1,1594.1 1528.8,1608.7 1529.5,1591.6 1530.2,1613.3 1530.9,1602.7 1531.6,1615.6 1532.3,1606.8 1533,1622.8 1533.7,1612.9 1534.4,1627.3 1535.1,1608.4 1535.8,1628.9 1536.5,1612.8 1537.2,1631 1537.9,1615.3 1538.6,1627.4 1539.3,1612.7 1540,1629.3 1540.7,1617.2 1541.4,1628.5 1542.1,1612.7 1542.8,1627.6 1543.5,1614.4 1544.2,1626.5 1544.9,1613 1545.6,1632.2 1546.3,1618.8 1547,1635.1 1547.7,1615.6 1548.4,1628.1 1549.1,1620.6 1549.8,1632.1 1550.5,1615.3 1551.2,1629.8 1551.9,1623.4 1552.6,1631.6 1553.3,1624 1554,1632.9 1554.7,1620.8 1555.4,1633.6 1556.1,1624.4 1556.8,1630.9 1557.5,1620 1558.2,1634.3 1558.9,1622.6 1559.6,1634.7 1560.3,1621.3 1561,1637.9 1561.7,1620.4 1562.4,1636.7 1563.1,1624.2 1563.8,1632.7 1564.5,1626.1 1565.2,1637.8 1565.9,1626.5 1566.6,1635.8 1567.3,1620.7 1568,1634.1 1568.7,1624.5 1569.4,1634.9 1570.1,1620.8 1570.8,1636.9 1571.5,1621.8 1572.2,1632.5 1572.9,1622.7 1573.6,1635.4 1574.3,1625.1 1575,1638 1575.7,1623.1 1576.4,1638.7 1577.1,1623.2 1577.8,1638.7 1578.5,1625.5 1579.2,1636.5 1579.9,1623.3 1580.6,1635.9 1581.3,1627.7 1582,1636.8 1582.7,1623.2 1583.4,1638.7 1584.1,1628.1 1584.8,1635.7 1585.5,1627.6 1586.2,1635.5 1586.9,1623.2 1587.6,1636.1 1588.3,1627.5 1589,1635.3 1589.7,1626.8 1590.4,1637.8 1591.1,1627.6 1591.8,1635 1592.5,1628.5 1593.2,1635.5 1593.9,1624.6 1594.6,1635.1 1595.3,1625.6 1596,1634.8 1596.7,1625.6 1597.4,1635.9 1598.1,1625.8 1598.8,1637 1599.5,1630 1600.2,1635.1 1600.9,1625.9 1601.6,1637.8 1602.3,1627.9 1603,1636.8 1603.7,1626.8 1604.4,1637.6 1605.1,1630.6 1605.8,1638.4 1606.5,1629.3 1607.2,1639.9 1607.9,1628.1 1608.6,1639.6 1609.3,1630.7 1610,1639.3 1610.7,1628 1611.4,1640.2 1612.1,1626.6 1612.8,1638.6 1613.5,1628.4 1614.2,1639.9 1614.9,1630.4 1615.6,1638.8 1616.3,1627.6 1617,1639.1 1617.7,1629.1 1618.4,1640.7 1619.1,1626.8 1619.8,1637.5 1620.5,1631.9 1621.2,1639.5 1621.9,1631.7 1622.6,1641.6 1623.3,1630 1624,1639.3 1624.7,1628.2 1625.4,1641.2 1626.1,1632.1 1626.8,1639 1627.5,1632 1628.2,1639.2 1628.9,1632.4 1629.6,1641.5 1630.3,1631.3 1631,1638.9 1631.7,1628.5 1632.4,1641.3 1633.1,1631.6 1633.8,1639.7 1634.5,1629.9 1635.2,1638 1635.9,1632.8 1636.6,1641.7 1637.3,1632.8 1638,1640.9" fill="none" stroke="#111" stroke-width="1.6" stroke-linejoin="round"/>
<polyline points="1501.3,1560 1502.8,1496 1504.3,1560" fill="none" stroke="#111" stroke-width="2.6" stroke-linejoin="miter"/>
<polyline points="1506,1565 1507.8,1524.5 1509.6,1565" fill="none" stroke="#111" stroke-width="2.6" stroke-linejoin="miter"/>
<polyline points="1528.2,1615 1529.6,1272.1 1531,1615" fill="none" stroke="#111" stroke-width="2.6" stroke-linejoin="miter"/>
<polyline points="1661,1638.7 1661.7,1631.9 1662.4,1637.4 1663.1,1628.2 1663.8,1639.5 1664.5,1629.3 1665.2,1639.2 1665.9,1630.8 1666.6,1640.1 1667.3,1629.6 1668,1640.2 1668.7,1629.1 1669.4,1640.4 1670.1,1630.1 1670.8,1636.7 1671.5,1631.5 1672.2,1639.6 1672.9,1631.3 1673.6,1639.1 1674.3,1628.8 1675,1635.9 1675.7,1627.9 1676.4,1635.6 1677.1,1627.3 1677.8,1639.7 1678.5,1630.6 1679.2,1639 1679.9,1627.8 1680.6,1635.7 1681.3,1628 1682,1635.6 1682.7,1626.6 1683.4,1638.5 1684.1,1626.2 1684.8,1635 1685.5,1629.3 1686.2,1637.6 1686.9,1627.2 1687.6,1634.8 1688.3,1625.2 1689,1638.1 1689.7,1627.9 1690.4,1633.8 1691.1,1625.3 1691.8,1634.9 1692.5,1624.8 1693.2,1635 1693.9,1625.8 1694.6,1631.9 1695.3,1626.8 1696,1634 1696.7,1622.7 1697.4,1633.4 1698.1,1621.9 1698.8,1633.5 1699.5,1620.3 1700.2,1633.6 1700.9,1623 1701.6,1629.7 1702.3,1623.9 1703,1628.5 1703.7,1618.1 1704.4,1633.2 1705.1,1618 1705.8,1627.6 1706.5,1617.9 1707.2,1627.1 1707.9,1615.6 1708.6,1630 1709.3,1615.7 1710,1628.5 1710.7,1615.3 1711.4,1628.1 1712.1,1608.5 1712.8,1621.4 1713.5,1609.7 1714.2,1623 1714.9,1605 1715.6,1618.2 1716.3,1604.2 1717,1620.7 1717.7,1602.9 1718.4,1611.9 1719.1,1596.5 1719.8,1610.2 1720.5,1591.7 1721.2,1608.4 1721.9,1588.7 1722.6,1607.2 1723.3,1587 1724,1609.6 1724.7,1586.6 1725.4,1602.7 1726.1,1590.8 1726.8,1599.3 1727.5,1588.8 1728.2,1604.9 1728.9,1587.4 1729.6,1597.3 1730.3,1577.9 1731,1593.5 1731.7,1577.4 1732.4,1591.6 1733.1,1569.2 1733.8,1587.4 1734.5,1561.1 1735.2,1591.4 1735.9,1561.3 1736.6,1588.1 1737.3,1561.7 1738,1593.9 1738.7,1553.3 1739.4,1591.1 1740.1,1565.4 1740.8,1586.6 1741.5,1547.6 1742.2,1586.9 1742.9,1553 1743.6,1586.5 1744.3,1557.4 1745,1587.4 1745.7,1543.4 1746.4,1573.2 1747.1,1548.5 1747.8,1583.1 1748.5,1552.2 1749.2,1584.1 1749.9,1542.5 1750.6,1587.5 1751.3,1554.3 1752,1573.9 1752.7,1545.8 1753.4,1581.2 1754.1,1547.2 1754.8,1584.6 1755.5,1556.6 1756.2,1579.7 1756.9,1556.4 1757.6,1580.4 1758.3,1550.5 1759,1570.7 1759.7,1552.5 1760.4,1572.8 1761.1,1554.9 1761.8,1566 1762.5,1551.7 1763.2,1563 1763.9,1550.9 1764.6,1568.6 1765.3,1547.7 1766,1559.2 1766.7,1546.9 1767.4,1562.7 1768.1,1546.2 1768.8,1556 1769.5,1544.3 1770.2,1556.6 1770.9,1542.8 1771.6,1562.6 1772.3,1547.5 1773,1565.4 1773.7,1539.7 1774.4,1570.8 1775.1,1538.7 1775.8,1580.8 1776.5,1556.5 1777.2,1587.5 1777.9,1552.4 1778.6,1577.7 1779.3,1547.4 1780,1583.8 1780.7,1564.6 1781.4,1595.2 1782.1,1550.8 1782.8,1588.5 1783.5,1563 1784.2,1592.4 1784.9,1554.5 1785.6,1596.5 1786.3,1556.6 1787,1594.5 1787.7,1551.4 1788.4,1586.6 1789.1,1564.3 1789.8,1593.8 1790.5,1556.8 1791.2,1599 1791.9,1560.5 1792.6,1592.9 1793.3,1569.3 1794,1590.2 1794.7,1579.3 1795.4,1592 1796.1,1581.5 1796.8,1602.7 1797.5,1587 1798.2,1605.4 1798.9,1593.6 1799.6,1610.4 1800.3,1600.3 1801,1611.6 1801.7,1602.4 1802.4,1619 1803.1,1605.3 1803.8,1613.7 1804.5,1606.6 1805.2,1619.5 1805.9,1605.5 1806.6,1620.3 1807.3,1606.2 1808,1620.2 1808.7,1607.8 1809.4,1621 1810.1,1602.8 1810.8,1621.2 1811.5,1605.6 1812.2,1621.7 1812.9,1604.8 1813.6,1622.5 1814.3,1609.8 1815,1622.1 1815.7,1606.7 1816.4,1618.9 1817.1,1611 1817.8,1622.9 1818.5,1609.2 1819.2,1620.6 1819.9,1606.6 1820.6,1620.5 1821.3,1611.2 1822,1622.3 1822.7,1609.8 1823.4,1620 1824.1,1609.2 1824.8,1624.7 1825.5,1612.6 1826.2,1624.5 1826.9,1609.7 1827.6,1623 1828.3,1613.9 1829,1624.4 1829.7,1613.8 1830.4,1622.1 1831.1,1610.4 1831.8,1622.7 1832.5,1615.9 1833.2,1627 1833.9,1610.3 1834.6,1623.8 1835.3,1614.7 1836,1625.9 1836.7,1612.9 1837.4,1622.7 1838.1,1614 1838.8,1624.7 1839.5,1612.6 1840.2,1626.4 1840.9,1612.9 1841.6,1627.1 1842.3,1615.3 1843,1624.7 1843.7,1618.8 1844.4,1626.9 1845.1,1618.2 1845.8,1626.5 1846.5,1618.2 1847.2,1626.4 1847.9,1617.6 1848.6,1632.7 1849.3,1616.1 1850,1630.8 1850.7,1615.6 1851.4,1631.9 1852.1,1618.4 1852.8,1630.4 1853.5,1622.5 1854.2,1633.8 1854.9,1617.4 1855.6,1633.6 1856.3,1619.2 1857,1634 1857.7,1617.8 1858.4,1635.5 1859.1,1619.5 1859.8,1629.5 1860.5,1618.7 1861.2,1633.6 1861.9,1622.4 1862.6,1633.1 1863.3,1624 1864,1630.8 1864.7,1622.1 1865.4,1635.1 1866.1,1626.1 1866.8,1637.6 1867.5,1620.9 1868.2,1637.6 1868.9,1623.8 1869.6,1634.7 1870.3,1624.6 1871,1634.9 1871.7,1621.6 1872.4,1638.8 1873.1,1622.3 1873.8,1636.3 1874.5,1625.1 1875.2,1637.6 1875.9,1626.8 1876.6,1634.5 1877.3,1622.5 1878,1635.2 1878.7,1627.5 1879.4,1636.9 1880.1,1628.9 1880.8,1637.3 1881.5,1628.7 1882.2,1639.5 1882.9,1629.4 1883.6,1639.5 1884.3,1628.4 1885,1639.6 1885.7,1625.3 1886.4,1640.8 1887.1,1629.5 1887.8,1641.2 1888.5,1629.9 1889.2,1637.4 1889.9,1631.1 1890.6,1638.5 1891.3,1630.8 1892,1639.1 1892.7,1625.8 1893.4,1640.6 1894.1,1627.8 1894.8,1636.6 1895.5,1626 1896.2,1638.5 1896.9,1626.5 1897.6,1637.4 1898.3,1630.8 1899,1642.5" fill="none" stroke="#111" stroke-width="1.6" stroke-linejoin="round"/>
<polyline points="1770.3,1550 1771.9,1476 1773.5,1550" fill="none" stroke="#111" stroke-width="2.6" stroke-linejoin="miter"/>
<polyline points="1791.7,1585 1792.9,1560 1794.1,1585" fill="none" stroke="#111" stroke-width="2.6" stroke-linejoin="miter"/>
<polyline points="1825.5,1616 1826.9,1540.2 1828.3,1616" fill="none" stroke="#111" stroke-width="2.6" stroke-linejoin="miter"/>
<rect x="1776.5" y="1254.9" width="13.5" height="392.6" fill="#6fb743" opacity="0.6"/>
<polyline points="1779.9,1560 1781.5,1287.4 1783.1,1560" fill="none" stroke="#111" stroke-width="2.6" stroke-linejoin="miter"/>
<rect x="1136.4" y="1254.9" width="241.4" height="389.6" fill="none" stroke="#262626" stroke-width="3.2"/>
<rect x="1398.6" y="1254.9" width="241.4" height="389.6" fill="none" stroke="#262626" stroke-width="3.2"/>
<rect x="1659.4" y="1254.9" width="241.4" height="389.6" fill="none" stroke="#262626" stroke-width="3.2"/>
<text transform="translate(1106,1448.5) rotate(-90)" font-size="27.5" fill="#4a4a4a" text-anchor="middle" textLength="144" lengthAdjust="spacingAndGlyphs">PL intensity</text>
<text x="1530" y="1727" font-size="30" fill="#444" text-anchor="middle" font-weight="normal" textLength="231.6" lengthAdjust="spacingAndGlyphs">Wavelength (nm)</text>
</svg></body></html>
